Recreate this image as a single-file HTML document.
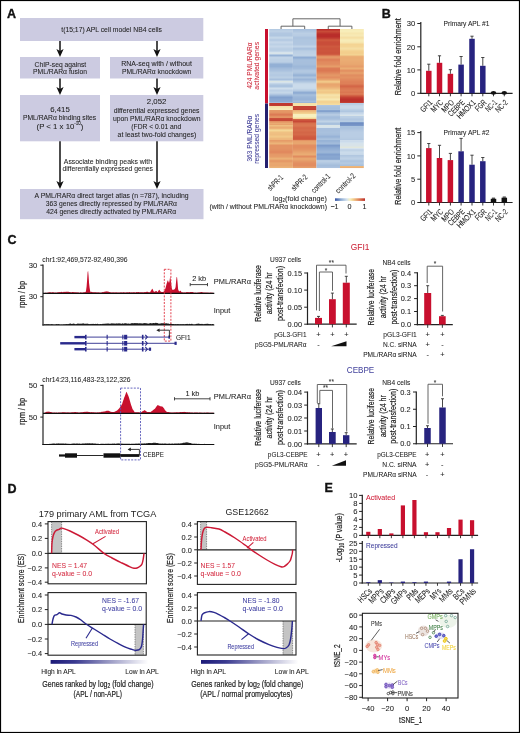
<!DOCTYPE html>
<html><head><meta charset="utf-8"><style>
html,body{margin:0;padding:0;background:#fff;}
svg{display:block;will-change:transform;}
svg text{font-family:"Liberation Sans", sans-serif;}
</style></head><body>
<svg width="520" height="733" viewBox="0 0 520 733" fill="#222">
<rect x="0" y="0" width="520" height="733" fill="#fff"/>
<text x="7.00" y="17.60" font-size="12.5" fill="#111" font-weight="bold" stroke="#111" stroke-width="0.35">A</text>
<rect x="20.00" y="18.00" width="183.30" height="23.00" fill="#cccbe1" />
<text x="111.60" y="29.60" font-size="7.8" text-anchor="middle" textLength="100.70" lengthAdjust="spacingAndGlyphs" dominant-baseline="central" stroke="#222" stroke-width="0.06">t(15;17) APL cell model NB4 cells</text>
<line x1="60.00" y1="41.00" x2="60.00" y2="54.00" stroke="#111" stroke-width="1.5" />
<path d="M56.40,49.00 L60.00,57.00 L63.60,49.00 L60.00,51.00 Z" stroke="none" fill="#111" stroke-width="1" />
<line x1="157.00" y1="41.00" x2="157.00" y2="54.00" stroke="#111" stroke-width="1.5" />
<path d="M153.40,49.00 L157.00,57.00 L160.60,49.00 L157.00,51.00 Z" stroke="none" fill="#111" stroke-width="1" />
<rect x="20.00" y="57.00" width="80.00" height="21.50" fill="#cccbe1" />
<rect x="110.00" y="57.00" width="93.30" height="21.50" fill="#cccbe1" />
<text x="60.40" y="64.00" font-size="7.8" text-anchor="middle" textLength="51.60" lengthAdjust="spacingAndGlyphs" dominant-baseline="central" stroke="#222" stroke-width="0.06">ChIP-seq against</text>
<text x="60.00" y="71.80" font-size="7.8" text-anchor="middle" textLength="53.80" lengthAdjust="spacingAndGlyphs" dominant-baseline="central" stroke="#222" stroke-width="0.06">PML/RAR&#945; fusion</text>
<text x="156.60" y="63.60" font-size="7.8" text-anchor="middle" textLength="70.70" lengthAdjust="spacingAndGlyphs" dominant-baseline="central" stroke="#222" stroke-width="0.06">RNA-seq with / without</text>
<text x="156.60" y="71.60" font-size="7.8" text-anchor="middle" textLength="69.30" lengthAdjust="spacingAndGlyphs" dominant-baseline="central" stroke="#222" stroke-width="0.06">PML/RAR&#945; knockdown</text>
<line x1="60.00" y1="78.50" x2="60.00" y2="92.00" stroke="#111" stroke-width="1.5" />
<path d="M56.40,87.00 L60.00,95.00 L63.60,87.00 L60.00,89.00 Z" stroke="none" fill="#111" stroke-width="1" />
<line x1="157.00" y1="78.50" x2="157.00" y2="92.00" stroke="#111" stroke-width="1.5" />
<path d="M153.40,87.00 L157.00,95.00 L160.60,87.00 L157.00,89.00 Z" stroke="none" fill="#111" stroke-width="1" />
<rect x="20.00" y="95.00" width="80.00" height="46.30" fill="#cccbe1" />
<rect x="110.00" y="95.00" width="93.30" height="46.30" fill="#cccbe1" />
<text x="60.00" y="109.60" font-size="7.8" text-anchor="middle" dominant-baseline="central" stroke="#222" stroke-width="0.06">6,415</text>
<text x="59.60" y="117.80" font-size="7.8" text-anchor="middle" textLength="73.20" lengthAdjust="spacingAndGlyphs" dominant-baseline="central" stroke="#222" stroke-width="0.06">PML/RAR&#945; binding sites</text>
<text x="60.00" y="126.00" font-size="7.8" text-anchor="middle" dominant-baseline="central" stroke="#222" stroke-width="0.06">(P &lt; 1 x 10<tspan font-size="4.5" dy="-3">-10</tspan><tspan dy="3">)</tspan></text>
<text x="156.60" y="101.80" font-size="7.8" text-anchor="middle" dominant-baseline="central" stroke="#222" stroke-width="0.06">2,052</text>
<text x="156.60" y="110.00" font-size="7.8" text-anchor="middle" textLength="85.70" lengthAdjust="spacingAndGlyphs" dominant-baseline="central" stroke="#222" stroke-width="0.06">differential expressed genes</text>
<text x="156.70" y="118.20" font-size="7.8" text-anchor="middle" textLength="87.50" lengthAdjust="spacingAndGlyphs" dominant-baseline="central" stroke="#222" stroke-width="0.06">upon PML/RAR&#945; knockdown</text>
<text x="156.30" y="126.20" font-size="7.8" text-anchor="middle" textLength="50.00" lengthAdjust="spacingAndGlyphs" dominant-baseline="central" stroke="#222" stroke-width="0.06">(FDR &lt; 0.01 and</text>
<text x="156.90" y="134.30" font-size="7.8" text-anchor="middle" textLength="78.70" lengthAdjust="spacingAndGlyphs" dominant-baseline="central" stroke="#222" stroke-width="0.06">at least two-fold changes)</text>
<line x1="60.00" y1="141.30" x2="60.00" y2="185.00" stroke="#111" stroke-width="1.5" />
<path d="M56.4,181 L60,189 L63.6,181 L60,183 Z" stroke="none" fill="#111" stroke-width="1" />
<line x1="157.00" y1="141.30" x2="157.00" y2="185.00" stroke="#111" stroke-width="1.5" />
<path d="M153.4,181 L157,189 L160.6,181 L157,183 Z" stroke="none" fill="#111" stroke-width="1" />
<text x="107.90" y="161.30" font-size="7.8" text-anchor="middle" textLength="88.20" lengthAdjust="spacingAndGlyphs" dominant-baseline="central" stroke="#222" stroke-width="0.06">Associate binding peaks with</text>
<text x="107.70" y="168.90" font-size="7.8" text-anchor="middle" textLength="90.50" lengthAdjust="spacingAndGlyphs" dominant-baseline="central" stroke="#222" stroke-width="0.06">differentially expressed genes</text>
<rect x="20.00" y="189.00" width="183.50" height="30.20" fill="#cccbe1" />
<text x="111.60" y="195.80" font-size="7.8" text-anchor="middle" textLength="154.20" lengthAdjust="spacingAndGlyphs" dominant-baseline="central" stroke="#222" stroke-width="0.06">A PML/RAR&#945; direct target atlas (n =787), including</text>
<text x="111.40" y="203.80" font-size="7.8" text-anchor="middle" textLength="131.20" lengthAdjust="spacingAndGlyphs" dominant-baseline="central" stroke="#222" stroke-width="0.06">363 genes directly repressed by PML/RAR&#945;</text>
<text x="111.20" y="211.80" font-size="7.8" text-anchor="middle" textLength="130.00" lengthAdjust="spacingAndGlyphs" dominant-baseline="central" stroke="#222" stroke-width="0.06">424 genes directly activated by PML/RAR&#945;</text>
<rect x="269.20" y="29.00" width="23.70" height="1.05" fill="#b4cae2" />
<rect x="269.20" y="30.00" width="23.70" height="1.05" fill="#bacee4" />
<rect x="269.20" y="31.00" width="23.70" height="1.05" fill="#bcd0e5" />
<rect x="269.20" y="32.00" width="23.70" height="1.05" fill="#b7cbe3" />
<rect x="269.20" y="33.00" width="23.70" height="1.05" fill="#b1c7e1" />
<rect x="269.20" y="34.00" width="23.70" height="1.05" fill="#b0c7e0" />
<rect x="269.20" y="35.00" width="23.70" height="1.05" fill="#b0c6e0" />
<rect x="269.20" y="36.00" width="23.70" height="1.05" fill="#b9cee4" />
<rect x="269.20" y="37.00" width="23.70" height="1.05" fill="#c4d6e8" />
<rect x="269.20" y="38.00" width="23.70" height="1.05" fill="#c0d3e6" />
<rect x="269.20" y="39.00" width="23.70" height="1.05" fill="#b6cbe3" />
<rect x="269.20" y="40.00" width="23.70" height="1.05" fill="#b6cbe3" />
<rect x="269.20" y="41.00" width="23.70" height="1.05" fill="#c1d3e7" />
<rect x="269.20" y="42.00" width="23.70" height="1.05" fill="#c6d7e9" />
<rect x="269.20" y="43.00" width="23.70" height="1.05" fill="#c1d3e7" />
<rect x="269.20" y="44.00" width="23.70" height="1.05" fill="#bcd0e5" />
<rect x="269.20" y="45.00" width="23.70" height="1.05" fill="#c1d4e7" />
<rect x="269.20" y="46.00" width="23.70" height="1.05" fill="#c6d7e9" />
<rect x="269.20" y="47.00" width="23.70" height="1.05" fill="#c1d3e7" />
<rect x="269.20" y="48.00" width="23.70" height="1.05" fill="#bbcfe4" />
<rect x="269.20" y="49.00" width="23.70" height="1.05" fill="#b9cee4" />
<rect x="269.20" y="50.00" width="23.70" height="1.05" fill="#bbcfe4" />
<rect x="269.20" y="51.00" width="23.70" height="1.05" fill="#c4d6e8" />
<rect x="269.20" y="52.00" width="23.70" height="1.05" fill="#d6e3ec" />
<rect x="269.20" y="53.00" width="23.70" height="1.05" fill="#d8e4e9" />
<rect x="269.20" y="54.00" width="23.70" height="1.05" fill="#b6cbe3" />
<rect x="269.20" y="55.00" width="23.70" height="1.05" fill="#97b3d6" />
<rect x="269.20" y="56.00" width="23.70" height="1.05" fill="#adc4df" />
<rect x="269.20" y="57.00" width="23.70" height="1.05" fill="#c1d3e7" />
<rect x="269.20" y="58.00" width="23.70" height="1.05" fill="#c0d3e6" />
<rect x="269.20" y="59.00" width="23.70" height="1.05" fill="#bdd1e5" />
<rect x="269.20" y="60.00" width="23.70" height="1.05" fill="#bdd0e5" />
<rect x="269.20" y="61.00" width="23.70" height="1.05" fill="#bcd0e5" />
<rect x="269.20" y="62.00" width="23.70" height="1.05" fill="#b4c9e2" />
<rect x="269.20" y="63.00" width="23.70" height="1.05" fill="#a1bbda" />
<rect x="269.20" y="64.00" width="23.70" height="1.05" fill="#94b0d5" />
<rect x="269.20" y="65.00" width="23.70" height="1.05" fill="#93b0d5" />
<rect x="269.20" y="66.00" width="23.70" height="1.05" fill="#93b0d5" />
<rect x="269.20" y="67.00" width="23.70" height="1.05" fill="#9bb6d8" />
<rect x="269.20" y="68.00" width="23.70" height="1.05" fill="#a2bbdb" />
<rect x="269.20" y="69.00" width="23.70" height="1.05" fill="#a6bfdc" />
<rect x="269.20" y="70.00" width="23.70" height="1.05" fill="#aac1de" />
<rect x="269.20" y="71.00" width="23.70" height="1.05" fill="#afc6e0" />
<rect x="269.20" y="72.00" width="23.70" height="1.05" fill="#b6cbe2" />
<rect x="269.20" y="73.00" width="23.70" height="1.05" fill="#b7cce3" />
<rect x="269.20" y="74.00" width="23.70" height="1.05" fill="#b4cae2" />
<rect x="269.20" y="75.00" width="23.70" height="1.05" fill="#b4c9e2" />
<rect x="269.20" y="76.00" width="23.70" height="1.05" fill="#b8cde3" />
<rect x="269.20" y="77.00" width="23.70" height="1.05" fill="#bbcfe4" />
<rect x="269.20" y="78.00" width="23.70" height="1.05" fill="#b2c8e1" />
<rect x="269.20" y="79.00" width="23.70" height="1.05" fill="#a8c0dd" />
<rect x="269.20" y="80.00" width="23.70" height="1.05" fill="#c0d3e6" />
<rect x="269.20" y="81.00" width="23.70" height="1.05" fill="#dbe5e4" />
<rect x="269.20" y="82.00" width="23.70" height="1.05" fill="#d6e3ec" />
<rect x="269.20" y="83.00" width="23.70" height="1.05" fill="#c3d5e7" />
<rect x="269.20" y="84.00" width="23.70" height="1.05" fill="#b5cbe2" />
<rect x="269.20" y="85.00" width="23.70" height="1.05" fill="#adc4df" />
<rect x="269.20" y="86.00" width="23.70" height="1.05" fill="#acc4df" />
<rect x="269.20" y="87.00" width="23.70" height="1.05" fill="#bfd2e6" />
<rect x="269.20" y="88.00" width="23.70" height="1.05" fill="#cfdeec" />
<rect x="269.20" y="89.00" width="23.70" height="1.05" fill="#c6d7e9" />
<rect x="269.20" y="90.00" width="23.70" height="1.05" fill="#bdd0e5" />
<rect x="269.20" y="91.00" width="23.70" height="1.05" fill="#c0d3e7" />
<rect x="269.20" y="92.00" width="23.70" height="1.05" fill="#c5d7e8" />
<rect x="269.20" y="93.00" width="23.70" height="1.05" fill="#bdd0e5" />
<rect x="269.20" y="94.00" width="23.70" height="1.05" fill="#afc5e0" />
<rect x="269.20" y="95.00" width="23.70" height="1.05" fill="#9eb8d9" />
<rect x="269.20" y="96.00" width="23.70" height="1.05" fill="#8eabd3" />
<rect x="269.20" y="97.00" width="23.70" height="1.05" fill="#82a0cd" />
<rect x="269.20" y="98.00" width="23.70" height="1.05" fill="#86a4cf" />
<rect x="269.20" y="99.00" width="23.70" height="1.05" fill="#89a7d1" />
<rect x="269.20" y="100.00" width="23.70" height="1.05" fill="#8caad2" />
<rect x="269.20" y="101.00" width="23.70" height="1.05" fill="#8eabd3" />
<rect x="269.20" y="102.00" width="23.70" height="1.05" fill="#a2bbdb" />
<rect x="269.20" y="103.00" width="23.70" height="1.05" fill="#bf3930" />
<rect x="269.20" y="104.00" width="23.70" height="1.05" fill="#bf3a30" />
<rect x="269.20" y="105.00" width="23.70" height="1.05" fill="#c13d31" />
<rect x="269.20" y="106.00" width="23.70" height="1.05" fill="#f6e2a9" />
<rect x="269.20" y="107.00" width="23.70" height="1.05" fill="#f6e6af" />
<rect x="269.20" y="108.00" width="23.70" height="1.05" fill="#f7eab5" />
<rect x="269.20" y="109.00" width="23.70" height="1.05" fill="#f7edb9" />
<rect x="269.20" y="110.00" width="23.70" height="1.05" fill="#e59967" />
<rect x="269.20" y="111.00" width="23.70" height="1.05" fill="#e49665" />
<rect x="269.20" y="112.00" width="23.70" height="1.05" fill="#e39363" />
<rect x="269.20" y="113.00" width="23.70" height="1.05" fill="#e0875c" />
<rect x="269.20" y="114.00" width="23.70" height="1.05" fill="#dc7a54" />
<rect x="269.20" y="115.00" width="23.70" height="1.05" fill="#de8158" />
<rect x="269.20" y="116.00" width="23.70" height="1.05" fill="#e29061" />
<rect x="269.20" y="117.00" width="23.70" height="1.05" fill="#e39363" />
<rect x="269.20" y="118.00" width="23.70" height="1.05" fill="#ca4f3a" />
<rect x="269.20" y="119.00" width="23.70" height="1.05" fill="#c64937" />
<rect x="269.20" y="120.00" width="23.70" height="1.05" fill="#c64736" />
<rect x="269.20" y="121.00" width="23.70" height="1.05" fill="#e28f61" />
<rect x="269.20" y="122.00" width="23.70" height="1.05" fill="#e69d69" />
<rect x="269.20" y="123.00" width="23.70" height="1.05" fill="#eaaa72" />
<rect x="269.20" y="124.00" width="23.70" height="1.05" fill="#e7a26c" />
<rect x="269.20" y="125.00" width="23.70" height="1.05" fill="#efbf81" />
<rect x="269.20" y="126.00" width="23.70" height="1.05" fill="#ecb57a" />
<rect x="269.20" y="127.00" width="23.70" height="1.05" fill="#eaac73" />
<rect x="269.20" y="128.00" width="23.70" height="1.05" fill="#ecb378" />
<rect x="269.20" y="129.00" width="23.70" height="1.05" fill="#f2cb8a" />
<rect x="269.20" y="130.00" width="23.70" height="1.05" fill="#f4d798" />
<rect x="269.20" y="131.00" width="23.70" height="1.05" fill="#f2cc8b" />
<rect x="269.20" y="132.00" width="23.70" height="1.05" fill="#efc183" />
<rect x="269.20" y="133.00" width="23.70" height="1.05" fill="#efbf82" />
<rect x="269.20" y="134.00" width="23.70" height="1.05" fill="#eebe80" />
<rect x="269.20" y="135.00" width="23.70" height="1.05" fill="#f0c284" />
<rect x="269.20" y="136.00" width="23.70" height="1.05" fill="#f1c888" />
<rect x="269.20" y="137.00" width="23.70" height="1.05" fill="#f0c284" />
<rect x="269.20" y="138.00" width="23.70" height="1.05" fill="#edb97d" />
<rect x="269.20" y="139.00" width="23.70" height="1.05" fill="#edb67b" />
<rect x="269.20" y="140.00" width="23.70" height="1.05" fill="#e69c69" />
<rect x="269.20" y="141.00" width="23.70" height="1.05" fill="#e7a26c" />
<rect x="269.20" y="142.00" width="23.70" height="1.05" fill="#eaac73" />
<rect x="269.20" y="143.00" width="23.70" height="1.05" fill="#ecb479" />
<rect x="269.20" y="144.00" width="23.70" height="1.05" fill="#e8a36d" />
<rect x="269.20" y="145.00" width="23.70" height="1.05" fill="#e39263" />
<rect x="269.20" y="146.00" width="23.70" height="1.05" fill="#e39263" />
<rect x="269.20" y="147.00" width="23.70" height="1.05" fill="#e39363" />
<rect x="269.20" y="148.00" width="23.70" height="1.05" fill="#e39263" />
<rect x="269.20" y="149.00" width="23.70" height="1.05" fill="#e29062" />
<rect x="269.20" y="150.00" width="23.70" height="1.05" fill="#e28d60" />
<rect x="269.20" y="151.00" width="23.70" height="1.05" fill="#e1895e" />
<rect x="269.20" y="152.00" width="23.70" height="1.05" fill="#e1895e" />
<rect x="269.20" y="153.00" width="23.70" height="1.05" fill="#e39162" />
<rect x="269.20" y="154.00" width="23.70" height="1.05" fill="#e59867" />
<rect x="269.20" y="155.00" width="23.70" height="1.05" fill="#e59a68" />
<rect x="269.20" y="156.00" width="23.70" height="1.05" fill="#e69c69" />
<rect x="269.20" y="157.00" width="23.70" height="1.05" fill="#e8a56e" />
<rect x="269.20" y="158.00" width="23.70" height="1.05" fill="#ebb076" />
<rect x="269.20" y="159.00" width="23.70" height="1.05" fill="#e9a971" />
<rect x="269.20" y="160.00" width="23.70" height="1.05" fill="#e59b68" />
<rect x="269.20" y="161.00" width="23.70" height="1.05" fill="#e59967" />
<rect x="269.20" y="162.00" width="23.70" height="1.05" fill="#e7a26c" />
<rect x="269.20" y="163.00" width="23.70" height="1.05" fill="#e9a770" />
<rect x="269.20" y="164.00" width="23.70" height="1.05" fill="#e9a66f" />
<rect x="269.20" y="165.00" width="23.70" height="1.05" fill="#e8a66f" />
<rect x="269.20" y="166.00" width="23.70" height="1.05" fill="#eaac73" />
<rect x="269.20" y="167.00" width="23.70" height="1.05" fill="#ebb277" />
<rect x="292.90" y="29.00" width="23.60" height="1.05" fill="#a8c0dd" />
<rect x="292.90" y="30.00" width="23.60" height="1.05" fill="#acc3df" />
<rect x="292.90" y="31.00" width="23.60" height="1.05" fill="#b1c7e0" />
<rect x="292.90" y="32.00" width="23.60" height="1.05" fill="#b6cbe3" />
<rect x="292.90" y="33.00" width="23.60" height="1.05" fill="#bbcfe4" />
<rect x="292.90" y="34.00" width="23.60" height="1.05" fill="#b9cde4" />
<rect x="292.90" y="35.00" width="23.60" height="1.05" fill="#b8cce3" />
<rect x="292.90" y="36.00" width="23.60" height="1.05" fill="#b2c8e1" />
<rect x="292.90" y="37.00" width="23.60" height="1.05" fill="#acc3df" />
<rect x="292.90" y="38.00" width="23.60" height="1.05" fill="#acc3de" />
<rect x="292.90" y="39.00" width="23.60" height="1.05" fill="#aec5df" />
<rect x="292.90" y="40.00" width="23.60" height="1.05" fill="#afc6e0" />
<rect x="292.90" y="41.00" width="23.60" height="1.05" fill="#afc6e0" />
<rect x="292.90" y="42.00" width="23.60" height="1.05" fill="#b0c6e0" />
<rect x="292.90" y="43.00" width="23.60" height="1.05" fill="#b0c6e0" />
<rect x="292.90" y="44.00" width="23.60" height="1.05" fill="#b1c7e1" />
<rect x="292.90" y="45.00" width="23.60" height="1.05" fill="#b9cde4" />
<rect x="292.90" y="46.00" width="23.60" height="1.05" fill="#c0d3e7" />
<rect x="292.90" y="47.00" width="23.60" height="1.05" fill="#b6cbe3" />
<rect x="292.90" y="48.00" width="23.60" height="1.05" fill="#aac1de" />
<rect x="292.90" y="49.00" width="23.60" height="1.05" fill="#acc4df" />
<rect x="292.90" y="50.00" width="23.60" height="1.05" fill="#b6cbe2" />
<rect x="292.90" y="51.00" width="23.60" height="1.05" fill="#bbcfe4" />
<rect x="292.90" y="52.00" width="23.60" height="1.05" fill="#bdd0e5" />
<rect x="292.90" y="53.00" width="23.60" height="1.05" fill="#bed1e6" />
<rect x="292.90" y="54.00" width="23.60" height="1.05" fill="#c0d3e6" />
<rect x="292.90" y="55.00" width="23.60" height="1.05" fill="#bfd2e6" />
<rect x="292.90" y="56.00" width="23.60" height="1.05" fill="#a8c0dd" />
<rect x="292.90" y="57.00" width="23.60" height="1.05" fill="#90add4" />
<rect x="292.90" y="58.00" width="23.60" height="1.05" fill="#98b4d7" />
<rect x="292.90" y="59.00" width="23.60" height="1.05" fill="#a4bddc" />
<rect x="292.90" y="60.00" width="23.60" height="1.05" fill="#a7c0dd" />
<rect x="292.90" y="61.00" width="23.60" height="1.05" fill="#a7bfdd" />
<rect x="292.90" y="62.00" width="23.60" height="1.05" fill="#a7bfdc" />
<rect x="292.90" y="63.00" width="23.60" height="1.05" fill="#a7bfdc" />
<rect x="292.90" y="64.00" width="23.60" height="1.05" fill="#a5bedc" />
<rect x="292.90" y="65.00" width="23.60" height="1.05" fill="#a1bbda" />
<rect x="292.90" y="66.00" width="23.60" height="1.05" fill="#9eb8d9" />
<rect x="292.90" y="67.00" width="23.60" height="1.05" fill="#a0bada" />
<rect x="292.90" y="68.00" width="23.60" height="1.05" fill="#a3bcdb" />
<rect x="292.90" y="69.00" width="23.60" height="1.05" fill="#aac2de" />
<rect x="292.90" y="70.00" width="23.60" height="1.05" fill="#b1c7e1" />
<rect x="292.90" y="71.00" width="23.60" height="1.05" fill="#b2c8e1" />
<rect x="292.90" y="72.00" width="23.60" height="1.05" fill="#afc6e0" />
<rect x="292.90" y="73.00" width="23.60" height="1.05" fill="#a8c0dd" />
<rect x="292.90" y="74.00" width="23.60" height="1.05" fill="#9cb7d8" />
<rect x="292.90" y="75.00" width="23.60" height="1.05" fill="#97b3d6" />
<rect x="292.90" y="76.00" width="23.60" height="1.05" fill="#a3bcdb" />
<rect x="292.90" y="77.00" width="23.60" height="1.05" fill="#adc4df" />
<rect x="292.90" y="78.00" width="23.60" height="1.05" fill="#a4bddb" />
<rect x="292.90" y="79.00" width="23.60" height="1.05" fill="#9bb5d8" />
<rect x="292.90" y="80.00" width="23.60" height="1.05" fill="#a3bcdb" />
<rect x="292.90" y="81.00" width="23.60" height="1.05" fill="#adc4df" />
<rect x="292.90" y="82.00" width="23.60" height="1.05" fill="#b8cde3" />
<rect x="292.90" y="83.00" width="23.60" height="1.05" fill="#c4d6e8" />
<rect x="292.90" y="84.00" width="23.60" height="1.05" fill="#cadaea" />
<rect x="292.90" y="85.00" width="23.60" height="1.05" fill="#cbdbeb" />
<rect x="292.90" y="86.00" width="23.60" height="1.05" fill="#cbdbeb" />
<rect x="292.90" y="87.00" width="23.60" height="1.05" fill="#cadbea" />
<rect x="292.90" y="88.00" width="23.60" height="1.05" fill="#c8d9ea" />
<rect x="292.90" y="89.00" width="23.60" height="1.05" fill="#bfd2e6" />
<rect x="292.90" y="90.00" width="23.60" height="1.05" fill="#b6cbe3" />
<rect x="292.90" y="91.00" width="23.60" height="1.05" fill="#a3bcdb" />
<rect x="292.90" y="92.00" width="23.60" height="1.05" fill="#8facd3" />
<rect x="292.90" y="93.00" width="23.60" height="1.05" fill="#93afd5" />
<rect x="292.90" y="94.00" width="23.60" height="1.05" fill="#a1bbda" />
<rect x="292.90" y="95.00" width="23.60" height="1.05" fill="#a5bedc" />
<rect x="292.90" y="96.00" width="23.60" height="1.05" fill="#9fb9da" />
<rect x="292.90" y="97.00" width="23.60" height="1.05" fill="#9bb6d8" />
<rect x="292.90" y="98.00" width="23.60" height="1.05" fill="#99b4d7" />
<rect x="292.90" y="99.00" width="23.60" height="1.05" fill="#98b3d7" />
<rect x="292.90" y="100.00" width="23.60" height="1.05" fill="#9fb9d9" />
<rect x="292.90" y="101.00" width="23.60" height="1.05" fill="#a6bfdc" />
<rect x="292.90" y="102.00" width="23.60" height="1.05" fill="#9bb6d8" />
<rect x="292.90" y="103.00" width="23.60" height="1.05" fill="#f6e1a7" />
<rect x="292.90" y="104.00" width="23.60" height="1.05" fill="#f6e1a7" />
<rect x="292.90" y="105.00" width="23.60" height="1.05" fill="#f6e2a9" />
<rect x="292.90" y="106.00" width="23.60" height="1.05" fill="#c44334" />
<rect x="292.90" y="107.00" width="23.60" height="1.05" fill="#c54535" />
<rect x="292.90" y="108.00" width="23.60" height="1.05" fill="#c54535" />
<rect x="292.90" y="109.00" width="23.60" height="1.05" fill="#c24033" />
<rect x="292.90" y="110.00" width="23.60" height="1.05" fill="#ebb177" />
<rect x="292.90" y="111.00" width="23.60" height="1.05" fill="#eebd80" />
<rect x="292.90" y="112.00" width="23.60" height="1.05" fill="#f1c989" />
<rect x="292.90" y="113.00" width="23.60" height="1.05" fill="#f3d392" />
<rect x="292.90" y="114.00" width="23.60" height="1.05" fill="#f8efbc" />
<rect x="292.90" y="115.00" width="23.60" height="1.05" fill="#f7f0bf" />
<rect x="292.90" y="116.00" width="23.60" height="1.05" fill="#f8f0be" />
<rect x="292.90" y="117.00" width="23.60" height="1.05" fill="#f7e7b0" />
<rect x="292.90" y="118.00" width="23.60" height="1.05" fill="#f4d696" />
<rect x="292.90" y="119.00" width="23.60" height="1.05" fill="#d16043" />
<rect x="292.90" y="120.00" width="23.60" height="1.05" fill="#cc533c" />
<rect x="292.90" y="121.00" width="23.60" height="1.05" fill="#c74937" />
<rect x="292.90" y="122.00" width="23.60" height="1.05" fill="#d05e42" />
<rect x="292.90" y="123.00" width="23.60" height="1.05" fill="#d8714e" />
<rect x="292.90" y="124.00" width="23.60" height="1.05" fill="#da7551" />
<rect x="292.90" y="125.00" width="23.60" height="1.05" fill="#da7752" />
<rect x="292.90" y="126.00" width="23.60" height="1.05" fill="#d9724f" />
<rect x="292.90" y="127.00" width="23.60" height="1.05" fill="#d66b4a" />
<rect x="292.90" y="128.00" width="23.60" height="1.05" fill="#d56949" />
<rect x="292.90" y="129.00" width="23.60" height="1.05" fill="#d66c4b" />
<rect x="292.90" y="130.00" width="23.60" height="1.05" fill="#d66d4c" />
<rect x="292.90" y="131.00" width="23.60" height="1.05" fill="#d56949" />
<rect x="292.90" y="132.00" width="23.60" height="1.05" fill="#d36647" />
<rect x="292.90" y="133.00" width="23.60" height="1.05" fill="#d46848" />
<rect x="292.90" y="134.00" width="23.60" height="1.05" fill="#d56949" />
<rect x="292.90" y="135.00" width="23.60" height="1.05" fill="#d36345" />
<rect x="292.90" y="136.00" width="23.60" height="1.05" fill="#d05d41" />
<rect x="292.90" y="137.00" width="23.60" height="1.05" fill="#cf593f" />
<rect x="292.90" y="138.00" width="23.60" height="1.05" fill="#ce583e" />
<rect x="292.90" y="139.00" width="23.60" height="1.05" fill="#d26144" />
<rect x="292.90" y="140.00" width="23.60" height="1.05" fill="#e49464" />
<rect x="292.90" y="141.00" width="23.60" height="1.05" fill="#e8a36d" />
<rect x="292.90" y="142.00" width="23.60" height="1.05" fill="#e8a56e" />
<rect x="292.90" y="143.00" width="23.60" height="1.05" fill="#e8a66f" />
<rect x="292.90" y="144.00" width="23.60" height="1.05" fill="#e59a68" />
<rect x="292.90" y="145.00" width="23.60" height="1.05" fill="#e28e61" />
<rect x="292.90" y="146.00" width="23.60" height="1.05" fill="#e28d60" />
<rect x="292.90" y="147.00" width="23.60" height="1.05" fill="#e28e60" />
<rect x="292.90" y="148.00" width="23.60" height="1.05" fill="#e39162" />
<rect x="292.90" y="149.00" width="23.60" height="1.05" fill="#e49464" />
<rect x="292.90" y="150.00" width="23.60" height="1.05" fill="#e59967" />
<rect x="292.90" y="151.00" width="23.60" height="1.05" fill="#e69f6a" />
<rect x="292.90" y="152.00" width="23.60" height="1.05" fill="#e8a46e" />
<rect x="292.90" y="153.00" width="23.60" height="1.05" fill="#e9a971" />
<rect x="292.90" y="154.00" width="23.60" height="1.05" fill="#eaac73" />
<rect x="292.90" y="155.00" width="23.60" height="1.05" fill="#e69c69" />
<rect x="292.90" y="156.00" width="23.60" height="1.05" fill="#e18c5f" />
<rect x="292.90" y="157.00" width="23.60" height="1.05" fill="#e49866" />
<rect x="292.90" y="158.00" width="23.60" height="1.05" fill="#e8a66f" />
<rect x="292.90" y="159.00" width="23.60" height="1.05" fill="#e8a56e" />
<rect x="292.90" y="160.00" width="23.60" height="1.05" fill="#e69e6a" />
<rect x="292.90" y="161.00" width="23.60" height="1.05" fill="#e49766" />
<rect x="292.90" y="162.00" width="23.60" height="1.05" fill="#e39263" />
<rect x="292.90" y="163.00" width="23.60" height="1.05" fill="#e28e61" />
<rect x="292.90" y="164.00" width="23.60" height="1.05" fill="#e28d60" />
<rect x="292.90" y="165.00" width="23.60" height="1.05" fill="#e28d60" />
<rect x="292.90" y="166.00" width="23.60" height="1.05" fill="#e49565" />
<rect x="292.90" y="167.00" width="23.60" height="1.05" fill="#e69d69" />
<rect x="316.50" y="29.00" width="23.50" height="1.05" fill="#b92d2a" />
<rect x="316.50" y="30.00" width="23.50" height="1.05" fill="#c13d32" />
<rect x="316.50" y="31.00" width="23.50" height="1.05" fill="#c84b38" />
<rect x="316.50" y="32.00" width="23.50" height="1.05" fill="#c34133" />
<rect x="316.50" y="33.00" width="23.50" height="1.05" fill="#be362e" />
<rect x="316.50" y="34.00" width="23.50" height="1.05" fill="#b92e2a" />
<rect x="316.50" y="35.00" width="23.50" height="1.05" fill="#b92d2a" />
<rect x="316.50" y="36.00" width="23.50" height="1.05" fill="#b92d2a" />
<rect x="316.50" y="37.00" width="23.50" height="1.05" fill="#bd362e" />
<rect x="316.50" y="38.00" width="23.50" height="1.05" fill="#c34133" />
<rect x="316.50" y="39.00" width="23.50" height="1.05" fill="#cb523b" />
<rect x="316.50" y="40.00" width="23.50" height="1.05" fill="#ce583e" />
<rect x="316.50" y="41.00" width="23.50" height="1.05" fill="#cb513b" />
<rect x="316.50" y="42.00" width="23.50" height="1.05" fill="#c94d39" />
<rect x="316.50" y="43.00" width="23.50" height="1.05" fill="#c94d39" />
<rect x="316.50" y="44.00" width="23.50" height="1.05" fill="#c94e39" />
<rect x="316.50" y="45.00" width="23.50" height="1.05" fill="#cc533c" />
<rect x="316.50" y="46.00" width="23.50" height="1.05" fill="#ce593f" />
<rect x="316.50" y="47.00" width="23.50" height="1.05" fill="#cd573d" />
<rect x="316.50" y="48.00" width="23.50" height="1.05" fill="#cc543c" />
<rect x="316.50" y="49.00" width="23.50" height="1.05" fill="#cc543c" />
<rect x="316.50" y="50.00" width="23.50" height="1.05" fill="#cd553d" />
<rect x="316.50" y="51.00" width="23.50" height="1.05" fill="#cc553c" />
<rect x="316.50" y="52.00" width="23.50" height="1.05" fill="#cb533c" />
<rect x="316.50" y="53.00" width="23.50" height="1.05" fill="#cc543c" />
<rect x="316.50" y="54.00" width="23.50" height="1.05" fill="#d05d41" />
<rect x="316.50" y="55.00" width="23.50" height="1.05" fill="#db7853" />
<rect x="316.50" y="56.00" width="23.50" height="1.05" fill="#e39162" />
<rect x="316.50" y="57.00" width="23.50" height="1.05" fill="#e49766" />
<rect x="316.50" y="58.00" width="23.50" height="1.05" fill="#e18d60" />
<rect x="316.50" y="59.00" width="23.50" height="1.05" fill="#de8159" />
<rect x="316.50" y="60.00" width="23.50" height="1.05" fill="#de8259" />
<rect x="316.50" y="61.00" width="23.50" height="1.05" fill="#e0885d" />
<rect x="316.50" y="62.00" width="23.50" height="1.05" fill="#e18b5f" />
<rect x="316.50" y="63.00" width="23.50" height="1.05" fill="#e18c5f" />
<rect x="316.50" y="64.00" width="23.50" height="1.05" fill="#e28f61" />
<rect x="316.50" y="65.00" width="23.50" height="1.05" fill="#e49766" />
<rect x="316.50" y="66.00" width="23.50" height="1.05" fill="#e69d69" />
<rect x="316.50" y="67.00" width="23.50" height="1.05" fill="#e18d60" />
<rect x="316.50" y="68.00" width="23.50" height="1.05" fill="#dc7c56" />
<rect x="316.50" y="69.00" width="23.50" height="1.05" fill="#db7a54" />
<rect x="316.50" y="70.00" width="23.50" height="1.05" fill="#db7853" />
<rect x="316.50" y="71.00" width="23.50" height="1.05" fill="#dd7d56" />
<rect x="316.50" y="72.00" width="23.50" height="1.05" fill="#df845b" />
<rect x="316.50" y="73.00" width="23.50" height="1.05" fill="#e18c5f" />
<rect x="316.50" y="74.00" width="23.50" height="1.05" fill="#e39364" />
<rect x="316.50" y="75.00" width="23.50" height="1.05" fill="#e49766" />
<rect x="316.50" y="76.00" width="23.50" height="1.05" fill="#e39263" />
<rect x="316.50" y="77.00" width="23.50" height="1.05" fill="#e28e61" />
<rect x="316.50" y="78.00" width="23.50" height="1.05" fill="#e59867" />
<rect x="316.50" y="79.00" width="23.50" height="1.05" fill="#e7a26d" />
<rect x="316.50" y="80.00" width="23.50" height="1.05" fill="#ecb57a" />
<rect x="316.50" y="81.00" width="23.50" height="1.05" fill="#f1c888" />
<rect x="316.50" y="82.00" width="23.50" height="1.05" fill="#efc183" />
<rect x="316.50" y="83.00" width="23.50" height="1.05" fill="#eaae74" />
<rect x="316.50" y="84.00" width="23.50" height="1.05" fill="#e8a56e" />
<rect x="316.50" y="85.00" width="23.50" height="1.05" fill="#e9a76f" />
<rect x="316.50" y="86.00" width="23.50" height="1.05" fill="#eaaa72" />
<rect x="316.50" y="87.00" width="23.50" height="1.05" fill="#ebb277" />
<rect x="316.50" y="88.00" width="23.50" height="1.05" fill="#eeba7e" />
<rect x="316.50" y="89.00" width="23.50" height="1.05" fill="#f0c485" />
<rect x="316.50" y="90.00" width="23.50" height="1.05" fill="#f2cd8c" />
<rect x="316.50" y="91.00" width="23.50" height="1.05" fill="#f1c989" />
<rect x="316.50" y="92.00" width="23.50" height="1.05" fill="#f1c787" />
<rect x="316.50" y="93.00" width="23.50" height="1.05" fill="#f3d190" />
<rect x="316.50" y="94.00" width="23.50" height="1.05" fill="#f5dea3" />
<rect x="316.50" y="95.00" width="23.50" height="1.05" fill="#f6e2a9" />
<rect x="316.50" y="96.00" width="23.50" height="1.05" fill="#f5dea2" />
<rect x="316.50" y="97.00" width="23.50" height="1.05" fill="#f5dda1" />
<rect x="316.50" y="98.00" width="23.50" height="1.05" fill="#f6e3ab" />
<rect x="316.50" y="99.00" width="23.50" height="1.05" fill="#f7e8b2" />
<rect x="316.50" y="100.00" width="23.50" height="1.05" fill="#f5dea3" />
<rect x="316.50" y="101.00" width="23.50" height="1.05" fill="#f4d393" />
<rect x="316.50" y="102.00" width="23.50" height="1.05" fill="#f4d393" />
<rect x="316.50" y="103.00" width="23.50" height="1.05" fill="#f4d899" />
<rect x="316.50" y="104.00" width="23.50" height="1.05" fill="#f5dca1" />
<rect x="316.50" y="105.00" width="23.50" height="1.05" fill="#afc5e0" />
<rect x="316.50" y="106.00" width="23.50" height="1.05" fill="#aac1de" />
<rect x="316.50" y="107.00" width="23.50" height="1.05" fill="#a7c0dd" />
<rect x="316.50" y="108.00" width="23.50" height="1.05" fill="#a6bfdc" />
<rect x="316.50" y="109.00" width="23.50" height="1.05" fill="#a8c0dd" />
<rect x="316.50" y="110.00" width="23.50" height="1.05" fill="#88a6d0" />
<rect x="316.50" y="111.00" width="23.50" height="1.05" fill="#83a1cd" />
<rect x="316.50" y="112.00" width="23.50" height="1.05" fill="#9fb9d9" />
<rect x="316.50" y="113.00" width="23.50" height="1.05" fill="#aac2de" />
<rect x="316.50" y="114.00" width="23.50" height="1.05" fill="#b7cbe3" />
<rect x="316.50" y="115.00" width="23.50" height="1.05" fill="#b3c9e1" />
<rect x="316.50" y="116.00" width="23.50" height="1.05" fill="#a8c0dd" />
<rect x="316.50" y="117.00" width="23.50" height="1.05" fill="#a4bddc" />
<rect x="316.50" y="118.00" width="23.50" height="1.05" fill="#a6bfdc" />
<rect x="316.50" y="119.00" width="23.50" height="1.05" fill="#acc3df" />
<rect x="316.50" y="120.00" width="23.50" height="1.05" fill="#b7cce3" />
<rect x="316.50" y="121.00" width="23.50" height="1.05" fill="#c0d3e6" />
<rect x="316.50" y="122.00" width="23.50" height="1.05" fill="#b4cae2" />
<rect x="316.50" y="123.00" width="23.50" height="1.05" fill="#a7c0dd" />
<rect x="316.50" y="124.00" width="23.50" height="1.05" fill="#aac2de" />
<rect x="316.50" y="125.00" width="23.50" height="1.05" fill="#d9e4e7" />
<rect x="316.50" y="126.00" width="23.50" height="1.05" fill="#d8e4e8" />
<rect x="316.50" y="127.00" width="23.50" height="1.05" fill="#d5e2ed" />
<rect x="316.50" y="128.00" width="23.50" height="1.05" fill="#a7bfdd" />
<rect x="316.50" y="129.00" width="23.50" height="1.05" fill="#a7bfdd" />
<rect x="316.50" y="130.00" width="23.50" height="1.05" fill="#a7bfdd" />
<rect x="316.50" y="131.00" width="23.50" height="1.05" fill="#a8c0dd" />
<rect x="316.50" y="132.00" width="23.50" height="1.05" fill="#a9c1de" />
<rect x="316.50" y="133.00" width="23.50" height="1.05" fill="#a7c0dd" />
<rect x="316.50" y="134.00" width="23.50" height="1.05" fill="#a6bedc" />
<rect x="316.50" y="135.00" width="23.50" height="1.05" fill="#9fb9da" />
<rect x="316.50" y="136.00" width="23.50" height="1.05" fill="#98b3d7" />
<rect x="316.50" y="137.00" width="23.50" height="1.05" fill="#9cb7d8" />
<rect x="316.50" y="138.00" width="23.50" height="1.05" fill="#a6bedc" />
<rect x="316.50" y="139.00" width="23.50" height="1.05" fill="#aac2de" />
<rect x="316.50" y="140.00" width="23.50" height="1.05" fill="#97b3d6" />
<rect x="316.50" y="141.00" width="23.50" height="1.05" fill="#99b4d7" />
<rect x="316.50" y="142.00" width="23.50" height="1.05" fill="#9fb9d9" />
<rect x="316.50" y="143.00" width="23.50" height="1.05" fill="#a2bbdb" />
<rect x="316.50" y="144.00" width="23.50" height="1.05" fill="#91aed4" />
<rect x="316.50" y="145.00" width="23.50" height="1.05" fill="#7d9bca" />
<rect x="316.50" y="146.00" width="23.50" height="1.05" fill="#82a0cd" />
<rect x="316.50" y="147.00" width="23.50" height="1.05" fill="#89a7d1" />
<rect x="316.50" y="148.00" width="23.50" height="1.05" fill="#8eacd3" />
<rect x="316.50" y="149.00" width="23.50" height="1.05" fill="#93afd5" />
<rect x="316.50" y="150.00" width="23.50" height="1.05" fill="#97b2d6" />
<rect x="316.50" y="151.00" width="23.50" height="1.05" fill="#9bb5d8" />
<rect x="316.50" y="152.00" width="23.50" height="1.05" fill="#9ab5d7" />
<rect x="316.50" y="153.00" width="23.50" height="1.05" fill="#8dabd3" />
<rect x="316.50" y="154.00" width="23.50" height="1.05" fill="#82a0cd" />
<rect x="316.50" y="155.00" width="23.50" height="1.05" fill="#85a3cf" />
<rect x="316.50" y="156.00" width="23.50" height="1.05" fill="#89a7d1" />
<rect x="316.50" y="157.00" width="23.50" height="1.05" fill="#88a6d0" />
<rect x="316.50" y="158.00" width="23.50" height="1.05" fill="#86a4cf" />
<rect x="316.50" y="159.00" width="23.50" height="1.05" fill="#8facd3" />
<rect x="316.50" y="160.00" width="23.50" height="1.05" fill="#b7cce3" />
<rect x="316.50" y="161.00" width="23.50" height="1.05" fill="#bacee4" />
<rect x="316.50" y="162.00" width="23.50" height="1.05" fill="#b5cae2" />
<rect x="316.50" y="163.00" width="23.50" height="1.05" fill="#afc6e0" />
<rect x="316.50" y="164.00" width="23.50" height="1.05" fill="#a9c1dd" />
<rect x="316.50" y="165.00" width="23.50" height="1.05" fill="#a4bddb" />
<rect x="316.50" y="166.00" width="23.50" height="1.05" fill="#a7bfdd" />
<rect x="316.50" y="167.00" width="23.50" height="1.05" fill="#abc2de" />
<rect x="340.00" y="29.00" width="23.80" height="1.05" fill="#f7ebb6" />
<rect x="340.00" y="30.00" width="23.80" height="1.05" fill="#f7edb9" />
<rect x="340.00" y="31.00" width="23.80" height="1.05" fill="#f8edb9" />
<rect x="340.00" y="32.00" width="23.80" height="1.05" fill="#f7e9b3" />
<rect x="340.00" y="33.00" width="23.80" height="1.05" fill="#f6e6ae" />
<rect x="340.00" y="34.00" width="23.80" height="1.05" fill="#f7e8b1" />
<rect x="340.00" y="35.00" width="23.80" height="1.05" fill="#f7e9b4" />
<rect x="340.00" y="36.00" width="23.80" height="1.05" fill="#f6e4ad" />
<rect x="340.00" y="37.00" width="23.80" height="1.05" fill="#f5dfa4" />
<rect x="340.00" y="38.00" width="23.80" height="1.05" fill="#f6e2a9" />
<rect x="340.00" y="39.00" width="23.80" height="1.05" fill="#f7e9b3" />
<rect x="340.00" y="40.00" width="23.80" height="1.05" fill="#f7ecb8" />
<rect x="340.00" y="41.00" width="23.80" height="1.05" fill="#f7eab5" />
<rect x="340.00" y="42.00" width="23.80" height="1.05" fill="#f6e6af" />
<rect x="340.00" y="43.00" width="23.80" height="1.05" fill="#f5dca0" />
<rect x="340.00" y="44.00" width="23.80" height="1.05" fill="#f4d493" />
<rect x="340.00" y="45.00" width="23.80" height="1.05" fill="#f4d595" />
<rect x="340.00" y="46.00" width="23.80" height="1.05" fill="#f4d696" />
<rect x="340.00" y="47.00" width="23.80" height="1.05" fill="#f5da9d" />
<rect x="340.00" y="48.00" width="23.80" height="1.05" fill="#f5dea3" />
<rect x="340.00" y="49.00" width="23.80" height="1.05" fill="#f5db9e" />
<rect x="340.00" y="50.00" width="23.80" height="1.05" fill="#f4d494" />
<rect x="340.00" y="51.00" width="23.80" height="1.05" fill="#f3d08e" />
<rect x="340.00" y="52.00" width="23.80" height="1.05" fill="#f3ce8d" />
<rect x="340.00" y="53.00" width="23.80" height="1.05" fill="#f3cf8d" />
<rect x="340.00" y="54.00" width="23.80" height="1.05" fill="#f3d392" />
<rect x="340.00" y="55.00" width="23.80" height="1.05" fill="#f0c586" />
<rect x="340.00" y="56.00" width="23.80" height="1.05" fill="#ebb076" />
<rect x="340.00" y="57.00" width="23.80" height="1.05" fill="#eaac73" />
<rect x="340.00" y="58.00" width="23.80" height="1.05" fill="#eaac73" />
<rect x="340.00" y="59.00" width="23.80" height="1.05" fill="#eaad74" />
<rect x="340.00" y="60.00" width="23.80" height="1.05" fill="#eaac73" />
<rect x="340.00" y="61.00" width="23.80" height="1.05" fill="#eaaa72" />
<rect x="340.00" y="62.00" width="23.80" height="1.05" fill="#e9a971" />
<rect x="340.00" y="63.00" width="23.80" height="1.05" fill="#e9a870" />
<rect x="340.00" y="64.00" width="23.80" height="1.05" fill="#e8a66f" />
<rect x="340.00" y="65.00" width="23.80" height="1.05" fill="#e7a16c" />
<rect x="340.00" y="66.00" width="23.80" height="1.05" fill="#e69d6a" />
<rect x="340.00" y="67.00" width="23.80" height="1.05" fill="#e8a56e" />
<rect x="340.00" y="68.00" width="23.80" height="1.05" fill="#eaad74" />
<rect x="340.00" y="69.00" width="23.80" height="1.05" fill="#e7a06b" />
<rect x="340.00" y="70.00" width="23.80" height="1.05" fill="#e39162" />
<rect x="340.00" y="71.00" width="23.80" height="1.05" fill="#e39464" />
<rect x="340.00" y="72.00" width="23.80" height="1.05" fill="#e69e6a" />
<rect x="340.00" y="73.00" width="23.80" height="1.05" fill="#e69e6a" />
<rect x="340.00" y="74.00" width="23.80" height="1.05" fill="#e39364" />
<rect x="340.00" y="75.00" width="23.80" height="1.05" fill="#e18d60" />
<rect x="340.00" y="76.00" width="23.80" height="1.05" fill="#e29061" />
<rect x="340.00" y="77.00" width="23.80" height="1.05" fill="#e39263" />
<rect x="340.00" y="78.00" width="23.80" height="1.05" fill="#e28e60" />
<rect x="340.00" y="79.00" width="23.80" height="1.05" fill="#e1895e" />
<rect x="340.00" y="80.00" width="23.80" height="1.05" fill="#e0865c" />
<rect x="340.00" y="81.00" width="23.80" height="1.05" fill="#df8259" />
<rect x="340.00" y="82.00" width="23.80" height="1.05" fill="#de8058" />
<rect x="340.00" y="83.00" width="23.80" height="1.05" fill="#de8058" />
<rect x="340.00" y="84.00" width="23.80" height="1.05" fill="#db7853" />
<rect x="340.00" y="85.00" width="23.80" height="1.05" fill="#d66c4b" />
<rect x="340.00" y="86.00" width="23.80" height="1.05" fill="#d46647" />
<rect x="340.00" y="87.00" width="23.80" height="1.05" fill="#d76e4c" />
<rect x="340.00" y="88.00" width="23.80" height="1.05" fill="#da7651" />
<rect x="340.00" y="89.00" width="23.80" height="1.05" fill="#db7954" />
<rect x="340.00" y="90.00" width="23.80" height="1.05" fill="#dd7d56" />
<rect x="340.00" y="91.00" width="23.80" height="1.05" fill="#db7a54" />
<rect x="340.00" y="92.00" width="23.80" height="1.05" fill="#da7651" />
<rect x="340.00" y="93.00" width="23.80" height="1.05" fill="#dd7d56" />
<rect x="340.00" y="94.00" width="23.80" height="1.05" fill="#db7853" />
<rect x="340.00" y="95.00" width="23.80" height="1.05" fill="#d36345" />
<rect x="340.00" y="96.00" width="23.80" height="1.05" fill="#cb513b" />
<rect x="340.00" y="97.00" width="23.80" height="1.05" fill="#c34133" />
<rect x="340.00" y="98.00" width="23.80" height="1.05" fill="#bf382f" />
<rect x="340.00" y="99.00" width="23.80" height="1.05" fill="#bb312c" />
<rect x="340.00" y="100.00" width="23.80" height="1.05" fill="#bb322c" />
<rect x="340.00" y="101.00" width="23.80" height="1.05" fill="#bc332d" />
<rect x="340.00" y="102.00" width="23.80" height="1.05" fill="#c24033" />
<rect x="340.00" y="103.00" width="23.80" height="1.05" fill="#b9cde4" />
<rect x="340.00" y="104.00" width="23.80" height="1.05" fill="#bbcfe4" />
<rect x="340.00" y="105.00" width="23.80" height="1.05" fill="#c4d6e8" />
<rect x="340.00" y="106.00" width="23.80" height="1.05" fill="#c8d9ea" />
<rect x="340.00" y="107.00" width="23.80" height="1.05" fill="#c8d9e9" />
<rect x="340.00" y="108.00" width="23.80" height="1.05" fill="#c5d7e8" />
<rect x="340.00" y="109.00" width="23.80" height="1.05" fill="#bcd0e5" />
<rect x="340.00" y="110.00" width="23.80" height="1.05" fill="#b4cae2" />
<rect x="340.00" y="111.00" width="23.80" height="1.05" fill="#afc6e0" />
<rect x="340.00" y="112.00" width="23.80" height="1.05" fill="#c0d2e6" />
<rect x="340.00" y="113.00" width="23.80" height="1.05" fill="#c7d8e9" />
<rect x="340.00" y="114.00" width="23.80" height="1.05" fill="#d0dfed" />
<rect x="340.00" y="115.00" width="23.80" height="1.05" fill="#d8e3e9" />
<rect x="340.00" y="116.00" width="23.80" height="1.05" fill="#bbcfe4" />
<rect x="340.00" y="117.00" width="23.80" height="1.05" fill="#bacee4" />
<rect x="340.00" y="118.00" width="23.80" height="1.05" fill="#b4c9e2" />
<rect x="340.00" y="119.00" width="23.80" height="1.05" fill="#b0c6e0" />
<rect x="340.00" y="120.00" width="23.80" height="1.05" fill="#b5cae2" />
<rect x="340.00" y="121.00" width="23.80" height="1.05" fill="#b8cde3" />
<rect x="340.00" y="122.00" width="23.80" height="1.05" fill="#7f9dcb" />
<rect x="340.00" y="123.00" width="23.80" height="1.05" fill="#708ec3" />
<rect x="340.00" y="124.00" width="23.80" height="1.05" fill="#7492c5" />
<rect x="340.00" y="125.00" width="23.80" height="1.05" fill="#7a98c9" />
<rect x="340.00" y="126.00" width="23.80" height="1.05" fill="#abc3de" />
<rect x="340.00" y="127.00" width="23.80" height="1.05" fill="#aac2de" />
<rect x="340.00" y="128.00" width="23.80" height="1.05" fill="#acc3df" />
<rect x="340.00" y="129.00" width="23.80" height="1.05" fill="#b0c6e0" />
<rect x="340.00" y="130.00" width="23.80" height="1.05" fill="#b4c9e2" />
<rect x="340.00" y="131.00" width="23.80" height="1.05" fill="#b7cbe3" />
<rect x="340.00" y="132.00" width="23.80" height="1.05" fill="#b9cde4" />
<rect x="340.00" y="133.00" width="23.80" height="1.05" fill="#b9cde4" />
<rect x="340.00" y="134.00" width="23.80" height="1.05" fill="#b9cde4" />
<rect x="340.00" y="135.00" width="23.80" height="1.05" fill="#b9cde4" />
<rect x="340.00" y="136.00" width="23.80" height="1.05" fill="#b9cde4" />
<rect x="340.00" y="137.00" width="23.80" height="1.05" fill="#b8cce3" />
<rect x="340.00" y="138.00" width="23.80" height="1.05" fill="#b6cbe2" />
<rect x="340.00" y="139.00" width="23.80" height="1.05" fill="#b3c8e1" />
<rect x="340.00" y="140.00" width="23.80" height="1.05" fill="#cddceb" />
<rect x="340.00" y="141.00" width="23.80" height="1.05" fill="#cbdbeb" />
<rect x="340.00" y="142.00" width="23.80" height="1.05" fill="#d1e0ed" />
<rect x="340.00" y="143.00" width="23.80" height="1.05" fill="#d6e3eb" />
<rect x="340.00" y="144.00" width="23.80" height="1.05" fill="#d7e3ea" />
<rect x="340.00" y="145.00" width="23.80" height="1.05" fill="#d8e3e9" />
<rect x="340.00" y="146.00" width="23.80" height="1.05" fill="#dce5e3" />
<rect x="340.00" y="147.00" width="23.80" height="1.05" fill="#e1e7dd" />
<rect x="340.00" y="148.00" width="23.80" height="1.05" fill="#d5e2ed" />
<rect x="340.00" y="149.00" width="23.80" height="1.05" fill="#c3d5e8" />
<rect x="340.00" y="150.00" width="23.80" height="1.05" fill="#bfd2e6" />
<rect x="340.00" y="151.00" width="23.80" height="1.05" fill="#c6d8e9" />
<rect x="340.00" y="152.00" width="23.80" height="1.05" fill="#cbdbeb" />
<rect x="340.00" y="153.00" width="23.80" height="1.05" fill="#c9daea" />
<rect x="340.00" y="154.00" width="23.80" height="1.05" fill="#c7d8e9" />
<rect x="340.00" y="155.00" width="23.80" height="1.05" fill="#b1c7e0" />
<rect x="340.00" y="156.00" width="23.80" height="1.05" fill="#b5cae2" />
<rect x="340.00" y="157.00" width="23.80" height="1.05" fill="#bacee4" />
<rect x="340.00" y="158.00" width="23.80" height="1.05" fill="#bed1e6" />
<rect x="340.00" y="159.00" width="23.80" height="1.05" fill="#b9cee4" />
<rect x="340.00" y="160.00" width="23.80" height="1.05" fill="#b0c6e0" />
<rect x="340.00" y="161.00" width="23.80" height="1.05" fill="#adc4df" />
<rect x="340.00" y="162.00" width="23.80" height="1.05" fill="#b2c8e1" />
<rect x="340.00" y="163.00" width="23.80" height="1.05" fill="#b3c9e1" />
<rect x="340.00" y="164.00" width="23.80" height="1.05" fill="#adc4df" />
<rect x="340.00" y="165.00" width="23.80" height="1.05" fill="#a7c0dd" />
<rect x="340.00" y="166.00" width="23.80" height="1.05" fill="#ecb67a" />
<rect x="340.00" y="167.00" width="23.80" height="1.05" fill="#ebaf75" />
<rect x="265.00" y="29.00" width="3.00" height="74.50" fill="#c8102e" />
<rect x="265.00" y="103.50" width="3.00" height="64.50" fill="#25206e" />
<path d="M281.05,29.00 L281.05,26.20 L304.70,26.20 L304.70,29.00" stroke="#555" fill="none" stroke-width="0.9" />
<path d="M328.25,29.00 L328.25,26.20 L351.90,26.20 L351.90,29.00" stroke="#555" fill="none" stroke-width="0.9" />
<path d="M292.88,26.20 L292.88,18.80 L340.07,18.80 L340.07,26.20" stroke="#555" fill="none" stroke-width="0.9" />
<text x="249.40" y="65.50" font-size="7.3" text-anchor="middle" fill="#cf2a3c" textLength="46.30" lengthAdjust="spacingAndGlyphs" dominant-baseline="central" transform="rotate(-90 249.40 65.50)" stroke="#cf2a3c" stroke-width="0.06">424 PML/RAR&#945;</text>
<text x="257.00" y="65.80" font-size="7.3" text-anchor="middle" fill="#cf2a3c" textLength="47.70" lengthAdjust="spacingAndGlyphs" dominant-baseline="central" transform="rotate(-90 257.00 65.80)" stroke="#cf2a3c" stroke-width="0.06">activated genes</text>
<text x="249.40" y="138.70" font-size="7.3" text-anchor="middle" fill="#3d3b96" textLength="45.80" lengthAdjust="spacingAndGlyphs" dominant-baseline="central" transform="rotate(-90 249.40 138.70)" stroke="#3d3b96" stroke-width="0.06">363 PML/RAR&#945;</text>
<text x="257.00" y="138.80" font-size="7.3" text-anchor="middle" fill="#3d3b96" textLength="50.00" lengthAdjust="spacingAndGlyphs" dominant-baseline="central" transform="rotate(-90 257.00 138.80)" stroke="#3d3b96" stroke-width="0.06">repressed genes</text>
<text x="281.80" y="176.30" font-size="8.0" text-anchor="end" textLength="18.50" lengthAdjust="spacingAndGlyphs" dominant-baseline="central" transform="rotate(-45 281.80 176.30)" stroke="#222" stroke-width="0.06">shPR-1</text>
<text x="306.20" y="175.80" font-size="8.0" text-anchor="end" textLength="19.50" lengthAdjust="spacingAndGlyphs" dominant-baseline="central" transform="rotate(-45 306.20 175.80)" stroke="#222" stroke-width="0.06">shPR-2</text>
<text x="329.20" y="175.20" font-size="8.0" text-anchor="end" textLength="23.50" lengthAdjust="spacingAndGlyphs" dominant-baseline="central" transform="rotate(-45 329.20 175.20)" stroke="#222" stroke-width="0.06">control-1</text>
<text x="354.30" y="174.60" font-size="8.0" text-anchor="end" textLength="25.00" lengthAdjust="spacingAndGlyphs" dominant-baseline="central" transform="rotate(-45 354.30 174.60)" stroke="#222" stroke-width="0.06">control-2</text>
<text x="327.00" y="198.00" font-size="7.2" text-anchor="end" dominant-baseline="central" stroke="#222" stroke-width="0.06">log<tspan font-size="4.6" dy="1.8">2</tspan><tspan dy="-1.8">(fold change)</tspan></text>
<text x="327.00" y="206.20" font-size="7.2" text-anchor="end" textLength="117.50" lengthAdjust="spacingAndGlyphs" dominant-baseline="central" stroke="#222" stroke-width="0.06">(with / without PML/RAR&#945; knockdown)</text>
<defs><linearGradient id="cb" x1="0" x2="1" y1="0" y2="0"><stop offset="0.000" stop-color="#3755a5"/><stop offset="0.200" stop-color="#8caad2"/><stop offset="0.300" stop-color="#b2c8e1"/><stop offset="0.400" stop-color="#d4e2ee"/><stop offset="0.500" stop-color="#f8f0be"/><stop offset="0.600" stop-color="#f3d08e"/><stop offset="0.700" stop-color="#e9a870"/><stop offset="0.800" stop-color="#de8058"/><stop offset="0.900" stop-color="#ce583e"/><stop offset="1.000" stop-color="#b92d2a"/></linearGradient></defs>
<rect x="335.00" y="198.30" width="30.00" height="2.60" fill="url(#cb)" />
<text x="334.50" y="206.20" font-size="7.2" text-anchor="middle" dominant-baseline="central" stroke="#222" stroke-width="0.06">−1</text>
<text x="349.50" y="206.20" font-size="7.2" text-anchor="middle" dominant-baseline="central" stroke="#222" stroke-width="0.06">0</text>
<text x="364.50" y="206.20" font-size="7.2" text-anchor="middle" dominant-baseline="central" stroke="#222" stroke-width="0.06">1</text>
<text x="381.80" y="17.90" font-size="12.5" fill="#111" font-weight="bold" stroke="#111" stroke-width="0.35">B</text>
<line x1="420.80" y1="22.00" x2="420.80" y2="93.80" stroke="#222" stroke-width="1.2" />
<line x1="420.20" y1="93.30" x2="512.60" y2="93.30" stroke="#222" stroke-width="1.2" />
<line x1="417.30" y1="23.50" x2="420.80" y2="23.50" stroke="#222" stroke-width="1" />
<text x="415.30" y="23.70" font-size="7.6" text-anchor="end" dominant-baseline="central" stroke="#222" stroke-width="0.06">30</text>
<line x1="417.30" y1="46.80" x2="420.80" y2="46.80" stroke="#222" stroke-width="1" />
<text x="415.30" y="47.00" font-size="7.6" text-anchor="end" dominant-baseline="central" stroke="#222" stroke-width="0.06">20</text>
<line x1="417.30" y1="69.90" x2="420.80" y2="69.90" stroke="#222" stroke-width="1" />
<text x="415.30" y="70.10" font-size="7.6" text-anchor="end" dominant-baseline="central" stroke="#222" stroke-width="0.06">10</text>
<line x1="417.30" y1="93.30" x2="420.80" y2="93.30" stroke="#222" stroke-width="1" />
<text x="415.30" y="93.50" font-size="7.6" text-anchor="end" dominant-baseline="central" stroke="#222" stroke-width="0.06">0</text>
<text x="466.50" y="23.70" font-size="8.0" text-anchor="middle" textLength="46.00" lengthAdjust="spacingAndGlyphs" dominant-baseline="central" stroke="#222" stroke-width="0.06">Primary APL #1</text>
<rect x="426.05" y="70.80" width="5.50" height="22.50" fill="#c8102e" />
<line x1="428.80" y1="70.80" x2="428.80" y2="64.20" stroke="#333" stroke-width="0.9" />
<line x1="427.20" y1="64.20" x2="430.40" y2="64.20" stroke="#333" stroke-width="0.9" />
<rect x="436.75" y="62.80" width="5.50" height="30.50" fill="#c8102e" />
<line x1="439.50" y1="62.80" x2="439.50" y2="55.80" stroke="#333" stroke-width="0.9" />
<line x1="437.90" y1="55.80" x2="441.10" y2="55.80" stroke="#333" stroke-width="0.9" />
<rect x="447.65" y="73.80" width="5.50" height="19.50" fill="#c8102e" />
<line x1="450.40" y1="73.80" x2="450.40" y2="69.70" stroke="#333" stroke-width="0.9" />
<line x1="448.80" y1="69.70" x2="452.00" y2="69.70" stroke="#333" stroke-width="0.9" />
<rect x="458.35" y="64.60" width="5.50" height="28.70" fill="#27237f" />
<line x1="461.10" y1="64.60" x2="461.10" y2="56.50" stroke="#333" stroke-width="0.9" />
<line x1="459.50" y1="56.50" x2="462.70" y2="56.50" stroke="#333" stroke-width="0.9" />
<rect x="469.25" y="38.80" width="5.50" height="54.50" fill="#27237f" />
<line x1="472.00" y1="38.80" x2="472.00" y2="36.20" stroke="#333" stroke-width="0.9" />
<line x1="470.40" y1="36.20" x2="473.60" y2="36.20" stroke="#333" stroke-width="0.9" />
<rect x="480.05" y="65.80" width="5.50" height="27.50" fill="#27237f" />
<line x1="482.80" y1="65.80" x2="482.80" y2="57.50" stroke="#333" stroke-width="0.9" />
<line x1="481.20" y1="57.50" x2="484.40" y2="57.50" stroke="#333" stroke-width="0.9" />
<line x1="428.80" y1="93.30" x2="428.80" y2="96.30" stroke="#222" stroke-width="0.9" />
<line x1="439.50" y1="93.30" x2="439.50" y2="96.30" stroke="#222" stroke-width="0.9" />
<line x1="450.40" y1="93.30" x2="450.40" y2="96.30" stroke="#222" stroke-width="0.9" />
<line x1="461.10" y1="93.30" x2="461.10" y2="96.30" stroke="#222" stroke-width="0.9" />
<line x1="472.00" y1="93.30" x2="472.00" y2="96.30" stroke="#222" stroke-width="0.9" />
<line x1="482.80" y1="93.30" x2="482.80" y2="96.30" stroke="#222" stroke-width="0.9" />
<line x1="493.50" y1="93.30" x2="493.50" y2="96.30" stroke="#222" stroke-width="0.9" />
<line x1="504.30" y1="93.30" x2="504.30" y2="96.30" stroke="#222" stroke-width="0.9" />
<ellipse cx="493.50" cy="92.80" rx="2.7" ry="1.9" fill="#111"/>
<ellipse cx="504.30" cy="92.80" rx="2.7" ry="1.9" fill="#111"/>
<text x="431.20" y="101.30" font-size="8.2" text-anchor="end" textLength="13.52" lengthAdjust="spacingAndGlyphs" dominant-baseline="central" transform="rotate(-45 431.20 101.30)" stroke="#222" stroke-width="0.06">GFI1</text>
<text x="441.90" y="101.30" font-size="8.2" text-anchor="end" textLength="13.52" lengthAdjust="spacingAndGlyphs" dominant-baseline="central" transform="rotate(-45 441.90 101.30)" stroke="#222" stroke-width="0.06">MYC</text>
<text x="452.80" y="101.30" font-size="8.2" text-anchor="end" textLength="14.04" lengthAdjust="spacingAndGlyphs" dominant-baseline="central" transform="rotate(-45 452.80 101.30)" stroke="#222" stroke-width="0.06">MPO</text>
<text x="463.50" y="101.30" font-size="8.2" text-anchor="end" textLength="19.76" lengthAdjust="spacingAndGlyphs" dominant-baseline="central" transform="rotate(-45 463.50 101.30)" stroke="#222" stroke-width="0.06">CEBPE</text>
<text x="474.40" y="101.30" font-size="8.2" text-anchor="end" textLength="22.88" lengthAdjust="spacingAndGlyphs" dominant-baseline="central" transform="rotate(-45 474.40 101.30)" stroke="#222" stroke-width="0.06">HMOX1</text>
<text x="485.20" y="101.30" font-size="8.2" text-anchor="end" textLength="12.48" lengthAdjust="spacingAndGlyphs" dominant-baseline="central" transform="rotate(-45 485.20 101.30)" stroke="#222" stroke-width="0.06">FGR</text>
<text x="495.90" y="101.30" font-size="8.2" text-anchor="end" textLength="13.00" lengthAdjust="spacingAndGlyphs" dominant-baseline="central" transform="rotate(-45 495.90 101.30)" stroke="#222" stroke-width="0.06">NC-1</text>
<text x="506.70" y="101.30" font-size="8.2" text-anchor="end" textLength="14.04" lengthAdjust="spacingAndGlyphs" dominant-baseline="central" transform="rotate(-45 506.70 101.30)" stroke="#222" stroke-width="0.06">NC-2</text>
<text x="398.00" y="56.70" font-size="9" text-anchor="middle" textLength="77.00" lengthAdjust="spacingAndGlyphs" dominant-baseline="central" transform="rotate(-90 398.00 56.70)" stroke="#222" stroke-width="0.2">Relative fold enrichment</text>
<line x1="420.80" y1="131.10" x2="420.80" y2="203.00" stroke="#222" stroke-width="1.2" />
<line x1="420.20" y1="202.50" x2="512.60" y2="202.50" stroke="#222" stroke-width="1.2" />
<line x1="417.30" y1="132.60" x2="420.80" y2="132.60" stroke="#222" stroke-width="1" />
<text x="415.30" y="132.80" font-size="7.6" text-anchor="end" dominant-baseline="central" stroke="#222" stroke-width="0.06">15</text>
<line x1="417.30" y1="155.90" x2="420.80" y2="155.90" stroke="#222" stroke-width="1" />
<text x="415.30" y="156.10" font-size="7.6" text-anchor="end" dominant-baseline="central" stroke="#222" stroke-width="0.06">10</text>
<line x1="417.30" y1="179.20" x2="420.80" y2="179.20" stroke="#222" stroke-width="1" />
<text x="415.30" y="179.40" font-size="7.6" text-anchor="end" dominant-baseline="central" stroke="#222" stroke-width="0.06">5</text>
<line x1="417.30" y1="202.50" x2="420.80" y2="202.50" stroke="#222" stroke-width="1" />
<text x="415.30" y="202.70" font-size="7.6" text-anchor="end" dominant-baseline="central" stroke="#222" stroke-width="0.06">0</text>
<text x="466.50" y="132.80" font-size="8.0" text-anchor="middle" textLength="46.00" lengthAdjust="spacingAndGlyphs" dominant-baseline="central" stroke="#222" stroke-width="0.06">Primary APL #2</text>
<rect x="426.05" y="148.10" width="5.50" height="54.40" fill="#c8102e" />
<line x1="428.80" y1="148.10" x2="428.80" y2="143.50" stroke="#333" stroke-width="0.9" />
<line x1="427.20" y1="143.50" x2="430.40" y2="143.50" stroke="#333" stroke-width="0.9" />
<rect x="436.75" y="158.00" width="5.50" height="44.50" fill="#c8102e" />
<line x1="439.50" y1="158.00" x2="439.50" y2="145.30" stroke="#333" stroke-width="0.9" />
<line x1="437.90" y1="145.30" x2="441.10" y2="145.30" stroke="#333" stroke-width="0.9" />
<rect x="447.65" y="160.10" width="5.50" height="42.40" fill="#c8102e" />
<line x1="450.40" y1="160.10" x2="450.40" y2="153.40" stroke="#333" stroke-width="0.9" />
<line x1="448.80" y1="153.40" x2="452.00" y2="153.40" stroke="#333" stroke-width="0.9" />
<rect x="458.35" y="151.30" width="5.50" height="51.20" fill="#27237f" />
<line x1="461.10" y1="151.30" x2="461.10" y2="138.40" stroke="#333" stroke-width="0.9" />
<line x1="459.50" y1="138.40" x2="462.70" y2="138.40" stroke="#333" stroke-width="0.9" />
<rect x="469.25" y="164.70" width="5.50" height="37.80" fill="#27237f" />
<line x1="472.00" y1="164.70" x2="472.00" y2="155.20" stroke="#333" stroke-width="0.9" />
<line x1="470.40" y1="155.20" x2="473.60" y2="155.20" stroke="#333" stroke-width="0.9" />
<rect x="480.05" y="161.20" width="5.50" height="41.30" fill="#27237f" />
<line x1="482.80" y1="161.20" x2="482.80" y2="157.50" stroke="#333" stroke-width="0.9" />
<line x1="481.20" y1="157.50" x2="484.40" y2="157.50" stroke="#333" stroke-width="0.9" />
<line x1="428.80" y1="202.50" x2="428.80" y2="205.50" stroke="#222" stroke-width="0.9" />
<line x1="439.50" y1="202.50" x2="439.50" y2="205.50" stroke="#222" stroke-width="0.9" />
<line x1="450.40" y1="202.50" x2="450.40" y2="205.50" stroke="#222" stroke-width="0.9" />
<line x1="461.10" y1="202.50" x2="461.10" y2="205.50" stroke="#222" stroke-width="0.9" />
<line x1="472.00" y1="202.50" x2="472.00" y2="205.50" stroke="#222" stroke-width="0.9" />
<line x1="482.80" y1="202.50" x2="482.80" y2="205.50" stroke="#222" stroke-width="0.9" />
<line x1="493.50" y1="202.50" x2="493.50" y2="205.50" stroke="#222" stroke-width="0.9" />
<line x1="504.30" y1="202.50" x2="504.30" y2="205.50" stroke="#222" stroke-width="0.9" />
<rect x="490.75" y="198.80" width="5.50" height="3.70" fill="#111" />
<line x1="491.90" y1="198.20" x2="495.10" y2="198.20" stroke="#111" stroke-width="1" />
<rect x="501.55" y="197.70" width="5.50" height="4.80" fill="#111" />
<line x1="502.70" y1="197.10" x2="505.90" y2="197.10" stroke="#111" stroke-width="1" />
<text x="431.20" y="210.50" font-size="8.2" text-anchor="end" textLength="13.52" lengthAdjust="spacingAndGlyphs" dominant-baseline="central" transform="rotate(-45 431.20 210.50)" stroke="#222" stroke-width="0.06">GFI1</text>
<text x="441.90" y="210.50" font-size="8.2" text-anchor="end" textLength="13.52" lengthAdjust="spacingAndGlyphs" dominant-baseline="central" transform="rotate(-45 441.90 210.50)" stroke="#222" stroke-width="0.06">MYC</text>
<text x="452.80" y="210.50" font-size="8.2" text-anchor="end" textLength="14.04" lengthAdjust="spacingAndGlyphs" dominant-baseline="central" transform="rotate(-45 452.80 210.50)" stroke="#222" stroke-width="0.06">MPO</text>
<text x="463.50" y="210.50" font-size="8.2" text-anchor="end" textLength="19.76" lengthAdjust="spacingAndGlyphs" dominant-baseline="central" transform="rotate(-45 463.50 210.50)" stroke="#222" stroke-width="0.06">CEBPE</text>
<text x="474.40" y="210.50" font-size="8.2" text-anchor="end" textLength="22.88" lengthAdjust="spacingAndGlyphs" dominant-baseline="central" transform="rotate(-45 474.40 210.50)" stroke="#222" stroke-width="0.06">HMOX1</text>
<text x="485.20" y="210.50" font-size="8.2" text-anchor="end" textLength="12.48" lengthAdjust="spacingAndGlyphs" dominant-baseline="central" transform="rotate(-45 485.20 210.50)" stroke="#222" stroke-width="0.06">FGR</text>
<text x="495.90" y="210.50" font-size="8.2" text-anchor="end" textLength="13.00" lengthAdjust="spacingAndGlyphs" dominant-baseline="central" transform="rotate(-45 495.90 210.50)" stroke="#222" stroke-width="0.06">NC-1</text>
<text x="506.70" y="210.50" font-size="8.2" text-anchor="end" textLength="14.04" lengthAdjust="spacingAndGlyphs" dominant-baseline="central" transform="rotate(-45 506.70 210.50)" stroke="#222" stroke-width="0.06">NC-2</text>
<text x="398.00" y="166.30" font-size="9" text-anchor="middle" textLength="77.00" lengthAdjust="spacingAndGlyphs" dominant-baseline="central" transform="rotate(-90 398.00 166.30)" stroke="#222" stroke-width="0.2">Relative fold enrichment</text>
<text x="7.50" y="243.90" font-size="12.5" fill="#111" font-weight="bold" stroke="#111" stroke-width="0.35">C</text>
<text x="42.30" y="259.70" font-size="7.2" textLength="85.20" lengthAdjust="spacingAndGlyphs" dominant-baseline="central" stroke="#222" stroke-width="0.06">chr1:92,469,572-92,490,396</text>
<line x1="43.00" y1="264.50" x2="43.00" y2="325.60" stroke="#222" stroke-width="1.2" />
<line x1="40.30" y1="265.20" x2="43.00" y2="265.20" stroke="#222" stroke-width="1" />
<line x1="40.30" y1="296.70" x2="43.00" y2="296.70" stroke="#222" stroke-width="1" />
<text x="37.30" y="265.40" font-size="7.6" text-anchor="end" dominant-baseline="central" stroke="#222" stroke-width="0.06">30</text>
<text x="37.30" y="296.70" font-size="7.6" text-anchor="end" dominant-baseline="central" stroke="#222" stroke-width="0.06">30</text>
<text x="22.30" y="294.50" font-size="8.6" text-anchor="middle" textLength="27.00" lengthAdjust="spacingAndGlyphs" dominant-baseline="central" transform="rotate(-90 22.30 294.50)" stroke="#222" stroke-width="0.2">rpm / bp</text>
<path d="M43.60,293.30 L43.60,293.19 L44.10,292.96 L44.60,292.91 L45.10,292.75 L45.60,292.65 L46.10,292.83 L46.60,292.92 L47.10,292.58 L47.60,292.65 L48.10,292.67 L48.60,292.32 L49.10,292.37 L49.60,292.20 L50.10,292.28 L50.60,292.27 L51.10,292.50 L51.60,292.41 L52.10,292.26 L52.60,292.36 L53.10,292.32 L53.60,292.34 L54.10,292.63 L54.60,292.48 L55.10,292.47 L55.60,292.57 L56.10,292.72 L56.60,292.41 L57.10,292.41 L57.60,292.29 L58.10,292.14 L58.60,292.13 L59.10,292.01 L59.60,292.17 L60.10,292.06 L60.60,292.13 L61.10,291.93 L61.60,291.83 L62.10,292.11 L62.60,292.22 L63.10,292.21 L63.60,291.85 L64.10,291.89 L64.60,291.80 L65.10,291.88 L65.60,291.81 L66.10,291.81 L66.60,291.80 L67.10,291.67 L67.60,291.73 L68.10,291.71 L68.60,291.87 L69.10,291.91 L69.60,292.03 L70.10,292.07 L70.60,292.16 L71.10,292.43 L71.60,292.23 L72.10,292.08 L72.60,292.02 L73.10,292.13 L73.60,292.11 L74.10,292.32 L74.60,292.13 L75.10,292.16 L75.60,292.33 L76.10,292.54 L76.60,292.30 L77.10,292.13 L77.60,292.47 L78.10,292.33 L78.60,292.45 L79.10,292.65 L79.60,292.69 L80.10,292.51 L80.60,292.34 L81.10,292.62 L81.60,292.50 L82.10,292.68 L82.60,292.47 L83.10,292.52 L83.60,292.29 L84.10,292.13 L84.60,292.25 L85.10,292.08 L85.60,292.29 L86.10,290.26 L86.60,286.38 L87.10,279.94 L87.60,272.15 L88.10,270.74 L88.60,275.88 L89.10,283.52 L89.60,287.76 L90.10,290.72 L90.60,292.14 L91.10,291.93 L91.60,291.87 L92.10,292.09 L92.60,292.18 L93.10,292.21 L93.60,292.19 L94.10,292.21 L94.60,292.26 L95.10,292.27 L95.60,292.13 L96.10,292.27 L96.60,292.38 L97.10,292.32 L97.60,292.51 L98.10,292.59 L98.60,292.34 L99.10,292.43 L99.60,292.47 L100.10,292.72 L100.60,292.57 L101.10,292.38 L101.60,292.49 L102.10,292.23 L102.60,292.05 L103.10,292.17 L103.60,291.93 L104.10,291.83 L104.60,291.64 L105.10,291.65 L105.60,291.45 L106.10,291.29 L106.60,291.48 L107.10,291.52 L107.60,291.48 L108.10,291.41 L108.60,291.79 L109.10,291.97 L109.60,292.09 L110.10,292.32 L110.60,292.36 L111.10,292.40 L111.60,292.41 L112.10,292.31 L112.60,292.40 L113.10,292.42 L113.60,292.25 L114.10,292.51 L114.60,292.40 L115.10,292.28 L115.60,292.41 L116.10,292.52 L116.60,292.32 L117.10,292.48 L117.60,292.59 L118.10,292.53 L118.60,292.39 L119.10,292.60 L119.60,292.60 L120.10,292.60 L120.60,292.37 L121.10,292.42 L121.60,292.25 L122.10,292.47 L122.60,292.50 L123.10,292.37 L123.60,292.20 L124.10,292.30 L124.60,292.45 L125.10,292.56 L125.60,292.43 L126.10,292.51 L126.60,292.27 L127.10,292.13 L127.60,292.35 L128.10,292.42 L128.60,292.20 L129.10,292.17 L129.60,292.07 L130.10,292.23 L130.60,292.41 L131.10,292.43 L131.60,292.22 L132.10,292.35 L132.60,292.38 L133.10,292.37 L133.60,292.37 L134.10,292.37 L134.60,292.15 L135.10,292.38 L135.60,292.57 L136.10,292.24 L136.60,292.11 L137.10,292.00 L137.60,292.19 L138.10,292.06 L138.60,292.01 L139.10,292.30 L139.60,292.22 L140.10,292.13 L140.60,292.13 L141.10,292.18 L141.60,292.30 L142.10,292.32 L142.60,292.36 L143.10,292.44 L143.60,292.23 L144.10,292.25 L144.60,292.01 L145.10,292.23 L145.60,291.98 L146.10,291.96 L146.60,291.86 L147.10,291.83 L147.60,291.82 L148.10,291.97 L148.60,292.31 L149.10,292.16 L149.60,292.36 L150.10,292.24 L150.60,291.29 L151.10,290.47 L151.60,289.71 L152.10,288.69 L152.60,289.03 L153.10,290.20 L153.60,291.34 L154.10,291.90 L154.60,291.72 L155.10,291.37 L155.60,291.27 L156.10,291.17 L156.60,291.05 L157.10,291.63 L157.60,292.29 L158.10,291.35 L158.60,290.43 L159.10,289.65 L159.60,289.99 L160.10,290.99 L160.60,291.52 L161.10,291.86 L161.60,292.07 L162.10,292.04 L162.60,291.98 L163.10,291.79 L163.60,291.65 L164.10,291.26 L164.60,290.75 L165.10,289.36 L165.60,287.74 L166.10,285.76 L166.60,283.87 L167.10,282.36 L167.60,280.43 L168.10,280.51 L168.60,282.17 L169.10,282.73 L169.60,280.62 L170.10,276.76 L170.60,278.65 L171.10,282.85 L171.60,287.31 L172.10,289.42 L172.60,289.69 L173.10,289.79 L173.60,289.78 L174.10,289.53 L174.60,289.15 L175.10,288.48 L175.60,286.93 L176.10,281.35 L176.60,276.81 L177.10,277.54 L177.60,282.74 L178.10,289.15 L178.60,290.52 L179.10,291.62 L179.60,291.18 L180.10,290.71 L180.60,290.72 L181.10,291.48 L181.60,292.25 L182.10,292.19 L182.60,292.29 L183.10,292.44 L183.60,292.40 L184.10,292.33 L184.60,292.58 L185.10,292.55 L185.60,292.49 L186.10,292.24 L186.60,292.06 L187.10,292.21 L187.60,292.03 L188.10,291.96 L188.60,292.15 L189.10,292.13 L189.60,292.26 L190.10,292.01 L190.60,292.01 L191.10,291.94 L191.60,291.97 L192.10,292.06 L192.60,292.11 L193.10,292.23 L193.60,292.52 L194.10,292.48 L194.60,292.74 L195.10,292.82 L195.60,292.53 L196.10,292.70 L196.60,292.74 L197.10,292.75 L197.60,292.39 L198.10,292.50 L198.60,292.62 L199.10,292.29 L199.60,292.44 L200.10,292.18 L200.60,292.17 L201.10,292.11 L201.60,292.04 L202.10,292.19 L202.60,292.18 L203.10,292.53 L203.60,292.39 L204.10,292.45 L204.60,292.41 L205.10,292.67 L205.60,292.50 L206.10,292.34 L206.60,292.65 L207.10,292.70 L207.60,292.61 L208.10,292.45 L208.60,292.64 L209.10,292.76 L209.60,292.80 L210.10,292.65 L210.60,292.52 L211.10,292.62 L211.60,292.68 L212.10,292.71 L212.60,292.74 L213.10,292.73 L213.60,292.88 L214.00,293.30 Z" stroke="none" fill="#c8102e" stroke-width="1" />
<line x1="43.00" y1="293.30" x2="214.30" y2="293.30" stroke="#111" stroke-width="1.2" />
<path d="M43.60,325.00 L43.60,324.67 L44.10,324.20 L44.60,324.33 L45.10,324.18 L45.60,324.49 L46.10,324.29 L46.60,324.16 L47.10,324.14 L47.60,324.23 L48.10,324.30 L48.60,324.23 L49.10,324.03 L49.60,324.42 L50.10,324.65 L50.60,324.34 L51.10,324.07 L51.60,324.20 L52.10,324.31 L52.60,324.19 L53.10,324.47 L53.60,324.56 L54.10,324.65 L54.60,324.45 L55.10,324.52 L55.60,324.61 L56.10,324.35 L56.60,324.06 L57.10,324.34 L57.60,324.21 L58.10,324.34 L58.60,324.11 L59.10,324.18 L59.60,324.41 L60.10,324.57 L60.60,324.77 L61.10,324.57 L61.60,324.54 L62.10,324.66 L62.60,324.59 L63.10,324.59 L63.60,324.29 L64.10,324.55 L64.60,324.13 L65.10,324.25 L65.60,324.24 L66.10,324.31 L66.60,324.11 L67.10,324.02 L67.60,324.15 L68.10,324.23 L68.60,323.98 L69.10,323.69 L69.60,323.77 L70.10,323.56 L70.60,323.39 L71.10,323.64 L71.60,323.93 L72.10,324.09 L72.60,323.87 L73.10,323.81 L73.60,323.60 L74.10,323.58 L74.60,323.99 L75.10,324.22 L75.60,324.25 L76.10,324.29 L76.60,323.96 L77.10,323.67 L77.60,323.48 L78.10,323.78 L78.60,323.52 L79.10,323.73 L79.60,323.74 L80.10,323.53 L80.60,323.82 L81.10,323.94 L81.60,323.50 L82.10,323.62 L82.60,323.61 L83.10,323.44 L83.60,323.28 L84.10,323.63 L84.60,323.66 L85.10,323.64 L85.60,323.63 L86.10,323.83 L86.60,323.71 L87.10,323.45 L87.60,323.71 L88.10,323.77 L88.60,324.10 L89.10,324.20 L89.60,324.02 L90.10,324.31 L90.60,323.94 L91.10,323.73 L91.60,324.16 L92.10,323.83 L92.60,324.04 L93.10,323.89 L93.60,323.82 L94.10,324.09 L94.60,323.98 L95.10,323.94 L95.60,323.83 L96.10,324.12 L96.60,323.96 L97.10,323.74 L97.60,323.82 L98.10,323.96 L98.60,324.30 L99.10,324.23 L99.60,324.29 L100.10,324.07 L100.60,323.95 L101.10,323.94 L101.60,324.16 L102.10,323.95 L102.60,323.83 L103.10,324.05 L103.60,323.67 L104.10,323.61 L104.60,323.91 L105.10,323.51 L105.60,323.80 L106.10,323.80 L106.60,323.53 L107.10,323.46 L107.60,323.46 L108.10,323.40 L108.60,323.48 L109.10,323.62 L109.60,323.77 L110.10,323.91 L110.60,323.56 L111.10,323.35 L111.60,323.38 L112.10,323.27 L112.60,323.45 L113.10,323.60 L113.60,323.60 L114.10,323.27 L114.60,323.65 L115.10,323.53 L115.60,323.63 L116.10,323.34 L116.60,323.46 L117.10,323.53 L117.60,323.52 L118.10,323.42 L118.60,323.21 L119.10,323.38 L119.60,323.14 L120.10,323.49 L120.60,323.58 L121.10,323.73 L121.60,323.80 L122.10,323.41 L122.60,323.25 L123.10,323.52 L123.60,323.66 L124.10,323.58 L124.60,323.33 L125.10,323.16 L125.60,323.13 L126.10,323.21 L126.60,323.55 L127.10,323.55 L127.60,323.69 L128.10,323.55 L128.60,323.45 L129.10,323.64 L129.60,323.71 L130.10,323.40 L130.60,323.72 L131.10,323.37 L131.60,323.14 L132.10,322.97 L132.60,323.26 L133.10,323.28 L133.60,323.27 L134.10,323.23 L134.60,322.98 L135.10,323.04 L135.60,323.31 L136.10,323.08 L136.60,323.21 L137.10,323.19 L137.60,323.09 L138.10,323.51 L138.60,323.21 L139.10,323.13 L139.60,323.19 L140.10,323.20 L140.60,323.26 L141.10,323.46 L141.60,323.35 L142.10,323.61 L142.60,323.45 L143.10,323.27 L143.60,323.32 L144.10,323.26 L144.60,322.98 L145.10,322.89 L145.60,323.34 L146.10,323.14 L146.60,323.15 L147.10,323.53 L147.60,323.52 L148.10,323.60 L148.60,323.75 L149.10,323.52 L149.60,323.16 L150.10,323.37 L150.60,323.11 L151.10,323.09 L151.60,323.43 L152.10,323.13 L152.60,323.15 L153.10,322.93 L153.60,322.96 L154.10,322.95 L154.60,323.20 L155.10,323.02 L155.60,322.84 L156.10,322.80 L156.60,323.04 L157.10,322.95 L157.60,323.08 L158.10,323.38 L158.60,323.57 L159.10,323.64 L159.60,323.59 L160.10,323.59 L160.60,323.39 L161.10,323.17 L161.60,323.17 L162.10,323.26 L162.60,323.16 L163.10,323.35 L163.60,323.35 L164.10,323.17 L164.60,323.31 L165.10,323.54 L165.60,323.20 L166.10,323.15 L166.60,323.37 L167.10,323.48 L167.60,323.44 L168.10,323.39 L168.60,323.62 L169.10,323.88 L169.60,323.89 L170.10,323.53 L170.60,323.77 L171.10,323.70 L171.60,323.85 L172.10,323.94 L172.60,324.01 L173.10,323.92 L173.60,324.04 L174.10,324.20 L174.60,324.24 L175.10,324.24 L175.60,324.04 L176.10,324.24 L176.60,324.37 L177.10,324.18 L177.60,324.12 L178.10,323.91 L178.60,324.25 L179.10,324.20 L179.60,324.20 L180.10,324.44 L180.60,323.94 L181.10,324.17 L181.60,324.37 L182.10,324.22 L182.60,324.35 L183.10,324.11 L183.60,324.17 L184.10,324.34 L184.60,324.47 L185.10,324.10 L185.60,324.21 L186.10,323.92 L186.60,323.99 L187.10,323.72 L187.60,323.99 L188.10,324.16 L188.60,324.24 L189.10,323.91 L189.60,323.87 L190.10,324.04 L190.60,324.28 L191.10,324.02 L191.60,323.70 L192.10,323.78 L192.60,324.21 L193.10,324.40 L193.60,324.46 L194.10,324.43 L194.60,324.50 L195.10,324.53 L195.60,324.15 L196.10,323.80 L196.60,324.08 L197.10,323.71 L197.60,323.85 L198.10,323.71 L198.60,323.56 L199.10,323.47 L199.60,324.01 L200.10,324.11 L200.60,323.97 L201.10,323.68 L201.60,324.10 L202.10,324.18 L202.60,323.86 L203.10,324.18 L203.60,324.17 L204.10,324.20 L204.60,323.99 L205.10,323.73 L205.60,324.10 L206.10,323.91 L206.60,323.83 L207.10,323.73 L207.60,323.86 L208.10,323.69 L208.60,323.98 L209.10,324.09 L209.60,324.27 L210.10,324.00 L210.60,324.07 L211.10,324.24 L211.60,324.40 L212.10,324.12 L212.60,324.06 L213.10,323.97 L213.60,324.13 L214.00,325.00 Z" stroke="none" fill="#222" stroke-width="1" />
<line x1="42.40" y1="325.00" x2="214.30" y2="325.00" stroke="#111" stroke-width="1.2" />
<rect x="164.3" y="269.3" width="6.6" height="71.8" fill="none" stroke="#e0303e" stroke-width="0.9" stroke-dasharray="2 1.3"/>
<line x1="190.20" y1="284.60" x2="207.50" y2="284.60" stroke="#333" stroke-width="0.9" />
<line x1="190.20" y1="283.00" x2="190.20" y2="286.20" stroke="#333" stroke-width="0.9" />
<line x1="207.50" y1="283.00" x2="207.50" y2="286.20" stroke="#333" stroke-width="0.9" />
<text x="199.20" y="278.80" font-size="7.4" text-anchor="middle" dominant-baseline="central" stroke="#222" stroke-width="0.06">2 kb</text>
<text x="213.80" y="281.80" font-size="7.4" dominant-baseline="central" stroke="#222" stroke-width="0.06">PML/RAR&#945;</text>
<text x="213.80" y="310.60" font-size="7.4" dominant-baseline="central" stroke="#222" stroke-width="0.06">Input</text>
<rect x="74.40" y="335.90" width="11.10" height="2.40" fill="#2a2a8c" />
<rect x="85.00" y="334.80" width="1.60" height="4.60" fill="#2a2a8c" />
<line x1="86.50" y1="337.10" x2="169.20" y2="337.10" stroke="#2a2a8c" stroke-width="0.9" />
<rect x="106.60" y="334.80" width="1.10" height="4.60" fill="#2a2a8c" />
<rect x="122.30" y="334.80" width="1.10" height="4.60" fill="#2a2a8c" />
<rect x="124.10" y="334.80" width="3.10" height="4.60" fill="#2a2a8c" />
<rect x="141.90" y="334.80" width="1.60" height="4.60" fill="#2a2a8c" />
<path d="M145.3,334.80 L147.3,337.10 L145.3,339.40" stroke="#2a2a8c" fill="none" stroke-width="1.1" />
<rect x="60.20" y="342.10" width="25.30" height="2.40" fill="#2a2a8c" />
<rect x="85.00" y="341.00" width="1.60" height="4.60" fill="#2a2a8c" />
<line x1="86.50" y1="343.30" x2="175.70" y2="343.30" stroke="#2a2a8c" stroke-width="0.9" />
<rect x="106.60" y="341.00" width="1.10" height="4.60" fill="#2a2a8c" />
<rect x="122.30" y="341.00" width="1.10" height="4.60" fill="#2a2a8c" />
<rect x="124.10" y="341.00" width="3.10" height="4.60" fill="#2a2a8c" />
<rect x="141.90" y="341.00" width="1.60" height="4.60" fill="#2a2a8c" />
<path d="M145.3,341.00 L147.3,343.30 L145.3,345.60" stroke="#2a2a8c" fill="none" stroke-width="1.1" />
<rect x="174.50" y="341.70" width="2.20" height="3.20" fill="#2a2a8c" />
<rect x="74.40" y="348.00" width="11.10" height="2.40" fill="#2a2a8c" />
<rect x="85.00" y="346.90" width="1.60" height="4.60" fill="#2a2a8c" />
<line x1="86.50" y1="349.20" x2="150.10" y2="349.20" stroke="#2a2a8c" stroke-width="0.9" />
<rect x="106.60" y="346.90" width="1.10" height="4.60" fill="#2a2a8c" />
<rect x="122.30" y="346.90" width="1.10" height="4.60" fill="#2a2a8c" />
<rect x="124.10" y="346.90" width="3.10" height="4.60" fill="#2a2a8c" />
<rect x="141.90" y="346.90" width="1.60" height="4.60" fill="#2a2a8c" />
<path d="M145.3,346.90 L147.3,349.20 L145.3,351.50" stroke="#2a2a8c" fill="none" stroke-width="1.1" />
<rect x="148.90" y="347.60" width="2.20" height="3.20" fill="#2a2a8c" />
<rect x="168.40" y="335.50" width="1.60" height="3.20" fill="#2a2a8c" />
<path d="M169.40,337.00 L169.40,330.20 L159.30,330.20" stroke="#222" fill="none" stroke-width="0.9" />
<path d="M156.3,330.2 L159.6,328.4 L159.6,332.0 Z" stroke="none" fill="#222" stroke-width="1" />
<text x="176.00" y="337.30" font-size="7.6" textLength="14.60" lengthAdjust="spacingAndGlyphs" dominant-baseline="central" stroke="#222" stroke-width="0.06">GFI1</text>
<text x="42.30" y="379.70" font-size="7.2" textLength="88.10" lengthAdjust="spacingAndGlyphs" dominant-baseline="central" stroke="#222" stroke-width="0.06">chr14:23,116,483-23,122,326</text>
<line x1="43.00" y1="384.70" x2="43.00" y2="445.10" stroke="#222" stroke-width="1.2" />
<line x1="40.30" y1="385.40" x2="43.00" y2="385.40" stroke="#222" stroke-width="1" />
<line x1="40.30" y1="417.10" x2="43.00" y2="417.10" stroke="#222" stroke-width="1" />
<text x="37.30" y="385.60" font-size="7.6" text-anchor="end" dominant-baseline="central" stroke="#222" stroke-width="0.06">50</text>
<text x="37.30" y="417.30" font-size="7.6" text-anchor="end" dominant-baseline="central" stroke="#222" stroke-width="0.06">50</text>
<text x="22.30" y="411.40" font-size="8.6" text-anchor="middle" textLength="27.00" lengthAdjust="spacingAndGlyphs" dominant-baseline="central" transform="rotate(-90 22.30 411.40)" stroke="#222" stroke-width="0.2">rpm / bp</text>
<path d="M43.60,413.30 L43.60,413.18 L44.10,412.99 L44.60,412.66 L45.10,412.56 L45.60,412.29 L46.10,412.00 L46.60,411.84 L47.10,411.85 L47.60,411.75 L48.10,411.54 L48.60,411.65 L49.10,411.70 L49.60,411.80 L50.10,412.00 L50.60,412.02 L51.10,412.11 L51.60,412.30 L52.10,412.42 L52.60,412.60 L53.10,412.63 L53.60,412.47 L54.10,412.60 L54.60,412.54 L55.10,412.62 L55.60,412.67 L56.10,412.55 L56.60,412.58 L57.10,412.65 L57.60,412.65 L58.10,412.52 L58.60,412.47 L59.10,412.59 L59.60,412.58 L60.10,412.39 L60.60,412.47 L61.10,412.41 L61.60,412.41 L62.10,412.31 L62.60,412.29 L63.10,412.23 L63.60,412.25 L64.10,412.33 L64.60,412.37 L65.10,412.41 L65.60,412.28 L66.10,412.41 L66.60,412.51 L67.10,412.34 L67.60,412.46 L68.10,412.37 L68.60,412.54 L69.10,412.54 L69.60,412.62 L70.10,412.50 L70.60,412.44 L71.10,412.38 L71.60,412.30 L72.10,412.20 L72.60,412.26 L73.10,412.20 L73.60,412.18 L74.10,412.23 L74.60,412.05 L75.10,412.02 L75.60,412.00 L76.10,412.16 L76.60,412.18 L77.10,412.23 L77.60,412.21 L78.10,412.38 L78.60,412.42 L79.10,412.42 L79.60,412.55 L80.10,412.49 L80.60,412.34 L81.10,412.31 L81.60,412.20 L82.10,412.13 L82.60,412.15 L83.10,412.10 L83.60,411.88 L84.10,411.90 L84.60,411.85 L85.10,411.88 L85.60,411.83 L86.10,411.81 L86.60,411.71 L87.10,411.74 L87.60,411.76 L88.10,411.78 L88.60,411.92 L89.10,411.95 L89.60,412.10 L90.10,412.23 L90.60,412.15 L91.10,412.13 L91.60,412.12 L92.10,412.24 L92.60,412.24 L93.10,412.34 L93.60,412.25 L94.10,412.24 L94.60,412.40 L95.10,412.32 L95.60,412.44 L96.10,412.51 L96.60,412.38 L97.10,412.42 L97.60,412.37 L98.10,412.30 L98.60,412.41 L99.10,412.28 L99.60,412.32 L100.10,412.27 L100.60,412.19 L101.10,412.00 L101.60,411.85 L102.10,411.84 L102.60,411.84 L103.10,411.73 L103.60,411.60 L104.10,411.58 L104.60,411.51 L105.10,411.29 L105.60,411.16 L106.10,410.98 L106.60,410.86 L107.10,410.78 L107.60,410.83 L108.10,410.87 L108.60,410.87 L109.10,411.06 L109.60,411.25 L110.10,411.45 L110.60,411.71 L111.10,411.79 L111.60,411.91 L112.10,411.95 L112.60,411.88 L113.10,411.88 L113.60,412.03 L114.10,411.97 L114.60,411.63 L115.10,411.54 L115.60,411.35 L116.10,411.03 L116.60,410.76 L117.10,410.54 L117.60,410.11 L118.10,409.60 L118.60,408.96 L119.10,408.46 L119.60,407.84 L120.10,407.25 L120.60,406.32 L121.10,405.65 L121.60,404.84 L122.10,403.92 L122.60,402.35 L123.10,400.84 L123.60,399.41 L124.10,397.86 L124.60,396.63 L125.10,395.30 L125.60,394.01 L126.10,392.57 L126.60,391.79 L127.10,392.97 L127.60,394.17 L128.10,395.24 L128.60,396.41 L129.10,398.11 L129.60,399.78 L130.10,401.51 L130.60,403.34 L131.10,404.94 L131.60,406.33 L132.10,407.77 L132.60,409.15 L133.10,409.80 L133.60,410.56 L134.10,411.36 L134.60,412.14 L135.10,412.28 L135.60,412.22 L136.10,412.15 L136.60,412.15 L137.10,412.28 L137.60,412.33 L138.10,412.31 L138.60,412.30 L139.10,412.35 L139.60,412.42 L140.10,412.43 L140.60,412.52 L141.10,412.50 L141.60,412.06 L142.10,411.60 L142.60,411.31 L143.10,411.04 L143.60,410.75 L144.10,410.41 L144.60,409.99 L145.10,410.41 L145.60,410.68 L146.10,411.20 L146.60,411.61 L147.10,411.89 L147.60,411.96 L148.10,411.93 L148.60,411.95 L149.10,411.96 L149.60,412.09 L150.10,412.25 L150.60,411.90 L151.10,411.58 L151.60,411.29 L152.10,411.02 L152.60,410.53 L153.10,410.02 L153.60,409.76 L154.10,409.28 L154.60,408.90 L155.10,408.43 L155.60,407.68 L156.10,406.96 L156.60,406.36 L157.10,405.85 L157.60,405.08 L158.10,405.26 L158.60,405.49 L159.10,405.60 L159.60,405.89 L160.10,406.14 L160.60,406.13 L161.10,406.19 L161.60,406.45 L162.10,406.62 L162.60,406.80 L163.10,407.13 L163.60,407.93 L164.10,408.55 L164.60,409.49 L165.10,410.26 L165.60,410.78 L166.10,411.32 L166.60,411.73 L167.10,412.04 L167.60,412.00 L168.10,412.06 L168.60,412.06 L169.10,412.28 L169.60,412.34 L170.10,412.23 L170.60,412.41 L171.10,412.47 L171.60,412.47 L172.10,412.53 L172.60,412.46 L173.10,412.54 L173.60,412.53 L174.10,412.33 L174.60,412.43 L175.10,412.28 L175.60,412.38 L176.10,412.21 L176.60,412.20 L177.10,412.20 L177.60,412.31 L178.10,412.38 L178.60,412.22 L179.10,412.27 L179.60,412.28 L180.10,412.11 L180.60,412.00 L181.10,412.13 L181.60,411.96 L182.10,411.96 L182.60,411.99 L183.10,412.06 L183.60,412.01 L184.10,411.82 L184.60,411.89 L185.10,411.96 L185.60,412.07 L186.10,412.17 L186.60,412.19 L187.10,412.10 L187.60,412.30 L188.10,412.40 L188.60,412.30 L189.10,412.27 L189.60,412.30 L190.10,412.52 L190.60,412.58 L191.10,412.46 L191.60,412.52 L192.10,412.50 L192.60,412.59 L193.10,412.71 L193.60,412.69 L194.10,412.58 L194.60,412.52 L195.10,412.55 L195.60,412.59 L196.10,412.59 L196.60,412.62 L197.10,412.61 L197.60,412.54 L198.10,412.66 L198.60,412.63 L199.10,412.53 L199.60,412.50 L200.10,412.66 L200.60,412.54 L201.10,412.52 L201.60,412.67 L202.10,412.73 L202.60,412.78 L203.10,412.84 L203.60,412.64 L204.10,412.68 L204.60,412.59 L205.10,412.74 L205.60,412.84 L206.10,412.67 L206.60,412.61 L207.10,412.54 L207.60,412.58 L208.10,412.64 L208.60,412.61 L209.10,412.77 L209.60,412.73 L210.10,412.74 L210.60,412.83 L211.10,412.75 L211.60,412.79 L212.10,412.76 L212.60,412.78 L213.10,412.81 L213.60,412.82 L214.00,413.30 Z" stroke="none" fill="#c8102e" stroke-width="1" />
<line x1="43.00" y1="413.30" x2="214.30" y2="413.30" stroke="#111" stroke-width="1.2" />
<path d="M43.60,444.50 L43.60,444.35 L44.10,444.15 L44.60,444.04 L45.10,443.99 L45.60,443.96 L46.10,444.06 L46.60,443.92 L47.10,444.02 L47.60,444.08 L48.10,444.01 L48.60,443.90 L49.10,443.92 L49.60,443.84 L50.10,443.88 L50.60,443.71 L51.10,443.74 L51.60,443.73 L52.10,443.69 L52.60,443.57 L53.10,443.48 L53.60,443.54 L54.10,443.59 L54.60,443.56 L55.10,443.67 L55.60,443.64 L56.10,443.51 L56.60,443.45 L57.10,443.59 L57.60,443.46 L58.10,443.50 L58.60,443.37 L59.10,443.45 L59.60,443.52 L60.10,443.47 L60.60,443.38 L61.10,443.46 L61.60,443.39 L62.10,443.41 L62.60,443.51 L63.10,443.58 L63.60,443.58 L64.10,443.61 L64.60,443.64 L65.10,443.59 L65.60,443.52 L66.10,443.56 L66.60,443.70 L67.10,443.76 L67.60,443.76 L68.10,443.70 L68.60,443.80 L69.10,443.88 L69.60,443.86 L70.10,443.86 L70.60,443.91 L71.10,443.81 L71.60,443.65 L72.10,443.67 L72.60,443.62 L73.10,443.57 L73.60,443.53 L74.10,443.49 L74.60,443.58 L75.10,443.57 L75.60,443.69 L76.10,443.56 L76.60,443.61 L77.10,443.61 L77.60,443.50 L78.10,443.59 L78.60,443.66 L79.10,443.53 L79.60,443.51 L80.10,443.63 L80.60,443.69 L81.10,443.64 L81.60,443.69 L82.10,443.50 L82.60,443.56 L83.10,443.56 L83.60,443.52 L84.10,443.47 L84.60,443.45 L85.10,443.39 L85.60,443.34 L86.10,443.37 L86.60,443.46 L87.10,443.28 L87.60,443.25 L88.10,443.38 L88.60,443.35 L89.10,443.25 L89.60,443.13 L90.10,443.30 L90.60,443.40 L91.10,443.36 L91.60,443.38 L92.10,443.28 L92.60,443.27 L93.10,443.40 L93.60,443.46 L94.10,443.46 L94.60,443.41 L95.10,443.56 L95.60,443.61 L96.10,443.73 L96.60,443.66 L97.10,443.80 L97.60,443.66 L98.10,443.70 L98.60,443.73 L99.10,443.88 L99.60,443.94 L100.10,443.91 L100.60,443.79 L101.10,443.80 L101.60,443.87 L102.10,443.73 L102.60,443.73 L103.10,443.77 L103.60,443.86 L104.10,443.88 L104.60,443.74 L105.10,443.86 L105.60,443.82 L106.10,443.77 L106.60,443.81 L107.10,443.73 L107.60,443.64 L108.10,443.61 L108.60,443.63 L109.10,443.76 L109.60,443.87 L110.10,443.82 L110.60,443.81 L111.10,443.83 L111.60,443.66 L112.10,443.73 L112.60,443.61 L113.10,443.51 L113.60,443.66 L114.10,443.52 L114.60,443.58 L115.10,443.64 L115.60,443.67 L116.10,443.72 L116.60,443.62 L117.10,443.58 L117.60,443.44 L118.10,443.37 L118.60,443.52 L119.10,443.51 L119.60,443.53 L120.10,443.60 L120.60,443.62 L121.10,443.64 L121.60,443.55 L122.10,443.61 L122.60,443.70 L123.10,443.73 L123.60,443.70 L124.10,443.66 L124.60,443.73 L125.10,443.66 L125.60,443.76 L126.10,443.70 L126.60,443.69 L127.10,443.81 L127.60,443.73 L128.10,443.79 L128.60,443.79 L129.10,443.79 L129.60,443.79 L130.10,443.84 L130.60,443.94 L131.10,443.80 L131.60,443.70 L132.10,443.74 L132.60,443.73 L133.10,443.80 L133.60,443.66 L134.10,443.64 L134.60,443.74 L135.10,443.63 L135.60,443.53 L136.10,443.63 L136.60,443.51 L137.10,443.58 L137.60,443.67 L138.10,443.58 L138.60,443.62 L139.10,443.54 L139.60,443.53 L140.10,443.63 L140.60,443.57 L141.10,443.45 L141.60,443.48 L142.10,443.47 L142.60,443.38 L143.10,443.43 L143.60,443.44 L144.10,443.40 L144.60,443.31 L145.10,443.40 L145.60,443.46 L146.10,443.31 L146.60,443.27 L147.10,443.30 L147.60,443.16 L148.10,443.07 L148.60,443.10 L149.10,442.99 L149.60,442.96 L150.10,442.96 L150.60,443.05 L151.10,443.15 L151.60,443.00 L152.10,442.89 L152.60,442.90 L153.10,442.85 L153.60,442.78 L154.10,442.80 L154.60,442.67 L155.10,442.64 L155.60,442.76 L156.10,442.93 L156.60,442.95 L157.10,443.05 L157.60,443.04 L158.10,443.22 L158.60,443.29 L159.10,443.41 L159.60,443.46 L160.10,443.47 L160.60,443.57 L161.10,443.64 L161.60,443.57 L162.10,443.61 L162.60,443.56 L163.10,443.62 L163.60,443.68 L164.10,443.60 L164.60,443.47 L165.10,443.42 L165.60,443.49 L166.10,443.56 L166.60,443.69 L167.10,443.70 L167.60,443.70 L168.10,443.55 L168.60,443.69 L169.10,443.55 L169.60,443.61 L170.10,443.65 L170.60,443.70 L171.10,443.54 L171.60,443.65 L172.10,443.61 L172.60,443.60 L173.10,443.66 L173.60,443.68 L174.10,443.50 L174.60,443.45 L175.10,443.44 L175.60,443.38 L176.10,443.55 L176.60,443.48 L177.10,443.43 L177.60,443.53 L178.10,443.51 L178.60,443.37 L179.10,443.46 L179.60,443.39 L180.10,443.48 L180.60,443.34 L181.10,443.32 L181.60,443.22 L182.10,443.16 L182.60,442.96 L183.10,442.86 L183.60,442.82 L184.10,442.72 L184.60,442.70 L185.10,442.55 L185.60,442.57 L186.10,442.47 L186.60,442.37 L187.10,442.33 L187.60,442.40 L188.10,442.58 L188.60,442.63 L189.10,442.84 L189.60,442.88 L190.10,443.05 L190.60,443.10 L191.10,443.22 L191.60,443.40 L192.10,443.62 L192.60,443.77 L193.10,443.73 L193.60,443.67 L194.10,443.60 L194.60,443.76 L195.10,443.86 L195.60,443.71 L196.10,443.71 L196.60,443.78 L197.10,443.76 L197.60,443.91 L198.10,443.89 L198.60,443.86 L199.10,443.87 L199.60,444.00 L200.10,444.07 L200.60,443.98 L201.10,443.88 L201.60,444.01 L202.10,444.11 L202.60,444.15 L203.10,443.99 L203.60,444.01 L204.10,444.01 L204.60,443.87 L205.10,443.90 L205.60,444.01 L206.10,443.95 L206.60,444.10 L207.10,444.11 L207.60,444.01 L208.10,444.09 L208.60,444.17 L209.10,444.09 L209.60,444.10 L210.10,443.94 L210.60,444.09 L211.10,443.98 L211.60,444.04 L212.10,443.96 L212.60,444.02 L213.10,443.99 L213.60,444.06 L214.00,444.50 Z" stroke="none" fill="#222" stroke-width="1" />
<line x1="42.40" y1="444.50" x2="214.30" y2="444.50" stroke="#111" stroke-width="1.2" />
<rect x="120.6" y="388.1" width="19.9" height="71.8" fill="none" stroke="#5656b8" stroke-width="0.9" stroke-dasharray="2 1.3"/>
<line x1="174.50" y1="398.80" x2="210.00" y2="398.80" stroke="#333" stroke-width="0.9" />
<line x1="174.50" y1="397.20" x2="174.50" y2="400.40" stroke="#333" stroke-width="0.9" />
<line x1="210.00" y1="397.20" x2="210.00" y2="400.40" stroke="#333" stroke-width="0.9" />
<text x="192.40" y="393.00" font-size="7.4" text-anchor="middle" dominant-baseline="central" stroke="#222" stroke-width="0.06">1 kb</text>
<text x="213.80" y="396.80" font-size="7.4" dominant-baseline="central" stroke="#222" stroke-width="0.06">PML/RAR&#945;</text>
<text x="213.80" y="426.30" font-size="7.4" dominant-baseline="central" stroke="#222" stroke-width="0.06">Input</text>
<rect x="59.00" y="454.40" width="6.20" height="2.20" fill="#111" />
<rect x="65.00" y="453.30" width="12.00" height="4.40" fill="#111" />
<line x1="77.00" y1="455.50" x2="103.50" y2="455.50" stroke="#111" stroke-width="0.9" />
<rect x="103.50" y="453.30" width="16.90" height="4.40" fill="#111" />
<rect x="120.40" y="454.10" width="19.00" height="2.80" fill="#111" />
<line x1="139.40" y1="455.50" x2="139.40" y2="449.40" stroke="#222" stroke-width="0.9" />
<line x1="139.40" y1="449.40" x2="130.10" y2="449.40" stroke="#222" stroke-width="0.9" />
<path d="M127.60,449.40 L130.80,447.60 L130.80,451.20 Z" stroke="none" fill="#222" stroke-width="1" />
<text x="143.00" y="454.60" font-size="7.6" textLength="20.80" lengthAdjust="spacingAndGlyphs" dominant-baseline="central" stroke="#222" stroke-width="0.06">CEBPE</text>
<text x="360.10" y="250.00" font-size="9.6" text-anchor="middle" fill="#cd283c" textLength="18.60" lengthAdjust="spacingAndGlyphs" stroke="#cd283c" stroke-width="0.06">GFI1</text>
<text x="360.50" y="373.20" font-size="9.3" text-anchor="middle" fill="#46469e" textLength="27.40" lengthAdjust="spacingAndGlyphs" stroke="#46469e" stroke-width="0.06">CEBPE</text>
<text x="285.60" y="259.30" font-size="7.4" text-anchor="middle" textLength="31.00" lengthAdjust="spacingAndGlyphs" dominant-baseline="central" stroke="#222" stroke-width="0.06">U937 cells</text>
<text x="258.30" y="293.40" font-size="9" text-anchor="middle" textLength="56.70" lengthAdjust="spacingAndGlyphs" dominant-baseline="central" transform="rotate(-90 258.30 293.40)" stroke="#222" stroke-width="0.2">Relative luciferase</text>
<text x="269.40" y="293.40" font-size="9" text-anchor="middle" textLength="41.80" lengthAdjust="spacingAndGlyphs" dominant-baseline="central" transform="rotate(-90 269.40 293.40)" stroke="#222" stroke-width="0.2">activity (24 hr</text>
<text x="279.90" y="293.40" font-size="9" text-anchor="middle" textLength="55.00" lengthAdjust="spacingAndGlyphs" dominant-baseline="central" transform="rotate(-90 279.90 293.40)" stroke="#222" stroke-width="0.2">post-transfection)</text>
<line x1="307.50" y1="272.40" x2="307.50" y2="324.80" stroke="#222" stroke-width="1.2" />
<line x1="306.90" y1="324.20" x2="356.70" y2="324.20" stroke="#222" stroke-width="1.2" />
<line x1="304.20" y1="273.00" x2="307.50" y2="273.00" stroke="#222" stroke-width="1" />
<text x="302.00" y="273.20" font-size="7.4" text-anchor="end" dominant-baseline="central" stroke="#222" stroke-width="0.06">0.15</text>
<line x1="304.20" y1="290.10" x2="307.50" y2="290.10" stroke="#222" stroke-width="1" />
<text x="302.00" y="290.30" font-size="7.4" text-anchor="end" dominant-baseline="central" stroke="#222" stroke-width="0.06">0.10</text>
<line x1="304.20" y1="307.20" x2="307.50" y2="307.20" stroke="#222" stroke-width="1" />
<text x="302.00" y="307.40" font-size="7.4" text-anchor="end" dominant-baseline="central" stroke="#222" stroke-width="0.06">0.05</text>
<line x1="304.20" y1="324.20" x2="307.50" y2="324.20" stroke="#222" stroke-width="1" />
<text x="302.00" y="324.40" font-size="7.4" text-anchor="end" dominant-baseline="central" stroke="#222" stroke-width="0.06">0.00</text>
<path d="M316.50,310.40 L316.50,265.20 L346.00,265.20 L346.00,273.50" stroke="#555" fill="none" stroke-width="0.9" />
<text x="331.40" y="262.40" font-size="6.5" text-anchor="middle" fill="#333" dominant-baseline="central" stroke="#333" stroke-width="0.06">**</text>
<path d="M319.40,311.00 L319.40,272.00 L332.50,272.00 L332.50,290.80" stroke="#555" fill="none" stroke-width="0.9" />
<text x="325.90" y="270.00" font-size="6.5" text-anchor="middle" fill="#333" dominant-baseline="central" stroke="#333" stroke-width="0.06">*</text>
<rect x="315.00" y="317.90" width="7.00" height="6.30" fill="#c8102e" />
<line x1="318.50" y1="317.90" x2="318.50" y2="316.40" stroke="#333" stroke-width="0.9" />
<line x1="317.00" y1="316.40" x2="320.00" y2="316.40" stroke="#333" stroke-width="0.9" />
<line x1="318.50" y1="324.20" x2="318.50" y2="327.40" stroke="#222" stroke-width="0.9" />
<rect x="329.00" y="299.20" width="6.80" height="25.00" fill="#c8102e" />
<line x1="332.40" y1="299.20" x2="332.40" y2="293.10" stroke="#333" stroke-width="0.9" />
<line x1="330.90" y1="293.10" x2="333.90" y2="293.10" stroke="#333" stroke-width="0.9" />
<line x1="332.40" y1="324.20" x2="332.40" y2="327.40" stroke="#222" stroke-width="0.9" />
<rect x="342.80" y="282.70" width="7.00" height="41.50" fill="#c8102e" />
<line x1="346.30" y1="282.70" x2="346.30" y2="276.30" stroke="#333" stroke-width="0.9" />
<line x1="344.80" y1="276.30" x2="347.80" y2="276.30" stroke="#333" stroke-width="0.9" />
<line x1="346.30" y1="324.20" x2="346.30" y2="327.40" stroke="#222" stroke-width="0.9" />
<text x="306.50" y="334.70" font-size="7.4" text-anchor="end" textLength="32.30" lengthAdjust="spacingAndGlyphs" dominant-baseline="central" stroke="#222" stroke-width="0.06">pGL3-GFI1</text>
<text x="318.40" y="334.70" font-size="7.4" text-anchor="middle" dominant-baseline="central" stroke="#222" stroke-width="0.06">+</text>
<text x="332.30" y="334.70" font-size="7.4" text-anchor="middle" dominant-baseline="central" stroke="#222" stroke-width="0.06">+</text>
<text x="346.30" y="334.70" font-size="7.4" text-anchor="middle" dominant-baseline="central" stroke="#222" stroke-width="0.06">+</text>
<text x="306.50" y="344.60" font-size="7.4" text-anchor="end" textLength="51.50" lengthAdjust="spacingAndGlyphs" dominant-baseline="central" stroke="#222" stroke-width="0.06">pSG5-PML/RAR&#945;</text>
<text x="318.40" y="344.60" font-size="7.4" text-anchor="middle" dominant-baseline="central" stroke="#222" stroke-width="0.06">-</text>
<path d="M331.20,346.30 L346.50,346.30 L346.50,341.20 Z" stroke="none" fill="#111" stroke-width="1" />
<text x="396.50" y="262.60" font-size="7.4" text-anchor="middle" textLength="28.00" lengthAdjust="spacingAndGlyphs" dominant-baseline="central" stroke="#222" stroke-width="0.06">NB4 cells</text>
<text x="371.30" y="297.10" font-size="9" text-anchor="middle" textLength="56.60" lengthAdjust="spacingAndGlyphs" dominant-baseline="central" transform="rotate(-90 371.30 297.10)" stroke="#222" stroke-width="0.2">Relative luciferase</text>
<text x="383.20" y="297.10" font-size="9" text-anchor="middle" textLength="42.30" lengthAdjust="spacingAndGlyphs" dominant-baseline="central" transform="rotate(-90 383.20 297.10)" stroke="#222" stroke-width="0.2">activity (24 hr</text>
<text x="393.60" y="297.10" font-size="9" text-anchor="middle" textLength="55.00" lengthAdjust="spacingAndGlyphs" dominant-baseline="central" transform="rotate(-90 393.60 297.10)" stroke="#222" stroke-width="0.2">post-transfection)</text>
<line x1="417.40" y1="272.20" x2="417.40" y2="325.20" stroke="#222" stroke-width="1.2" />
<line x1="416.80" y1="324.60" x2="452.80" y2="324.60" stroke="#222" stroke-width="1.2" />
<line x1="414.10" y1="272.80" x2="417.40" y2="272.80" stroke="#222" stroke-width="1" />
<text x="411.00" y="273.00" font-size="7.4" text-anchor="end" dominant-baseline="central" stroke="#222" stroke-width="0.06">0.4</text>
<line x1="414.10" y1="285.70" x2="417.40" y2="285.70" stroke="#222" stroke-width="1" />
<text x="411.00" y="285.90" font-size="7.4" text-anchor="end" dominant-baseline="central" stroke="#222" stroke-width="0.06">0.3</text>
<line x1="414.10" y1="298.60" x2="417.40" y2="298.60" stroke="#222" stroke-width="1" />
<text x="411.00" y="298.80" font-size="7.4" text-anchor="end" dominant-baseline="central" stroke="#222" stroke-width="0.06">0.2</text>
<line x1="414.10" y1="311.50" x2="417.40" y2="311.50" stroke="#222" stroke-width="1" />
<text x="411.00" y="311.70" font-size="7.4" text-anchor="end" dominant-baseline="central" stroke="#222" stroke-width="0.06">0.1</text>
<line x1="414.10" y1="324.60" x2="417.40" y2="324.60" stroke="#222" stroke-width="1" />
<text x="411.00" y="324.80" font-size="7.4" text-anchor="end" dominant-baseline="central" stroke="#222" stroke-width="0.06">0.0</text>
<path d="M427.20,283.00 L427.20,266.20 L442.60,266.20 L442.60,311.50" stroke="#555" fill="none" stroke-width="0.9" />
<text x="435.00" y="263.80" font-size="6.5" text-anchor="middle" fill="#333" dominant-baseline="central" stroke="#333" stroke-width="0.06">*</text>
<rect x="424.20" y="293.00" width="7.00" height="31.60" fill="#c8102e" />
<line x1="427.70" y1="293.00" x2="427.70" y2="285.70" stroke="#333" stroke-width="0.9" />
<line x1="426.20" y1="285.70" x2="429.20" y2="285.70" stroke="#333" stroke-width="0.9" />
<line x1="427.70" y1="324.60" x2="427.70" y2="327.80" stroke="#222" stroke-width="0.9" />
<rect x="439.00" y="316.20" width="6.70" height="8.40" fill="#c8102e" />
<line x1="442.35" y1="316.20" x2="442.35" y2="315.40" stroke="#333" stroke-width="0.9" />
<line x1="440.85" y1="315.40" x2="443.85" y2="315.40" stroke="#333" stroke-width="0.9" />
<line x1="442.35" y1="324.60" x2="442.35" y2="327.80" stroke="#222" stroke-width="0.9" />
<text x="416.70" y="334.60" font-size="7.4" text-anchor="end" textLength="33.40" lengthAdjust="spacingAndGlyphs" dominant-baseline="central" stroke="#222" stroke-width="0.06">pGL3-GFI1</text>
<text x="427.70" y="334.60" font-size="7.4" text-anchor="middle" dominant-baseline="central" stroke="#222" stroke-width="0.06">+</text>
<text x="442.50" y="334.60" font-size="7.4" text-anchor="middle" dominant-baseline="central" stroke="#222" stroke-width="0.06">+</text>
<text x="416.70" y="344.60" font-size="7.4" text-anchor="end" textLength="33.70" lengthAdjust="spacingAndGlyphs" dominant-baseline="central" stroke="#222" stroke-width="0.06">N.C. siRNA</text>
<text x="427.70" y="344.60" font-size="7.4" text-anchor="middle" dominant-baseline="central" stroke="#222" stroke-width="0.06">+</text>
<text x="442.50" y="344.60" font-size="7.4" text-anchor="middle" dominant-baseline="central" stroke="#222" stroke-width="0.06">-</text>
<text x="416.70" y="354.70" font-size="7.4" text-anchor="end" textLength="53.50" lengthAdjust="spacingAndGlyphs" dominant-baseline="central" stroke="#222" stroke-width="0.06">PML/RAR&#945; siRNA</text>
<text x="427.70" y="354.70" font-size="7.4" text-anchor="middle" dominant-baseline="central" stroke="#222" stroke-width="0.06">-</text>
<text x="442.50" y="354.70" font-size="7.4" text-anchor="middle" dominant-baseline="central" stroke="#222" stroke-width="0.06">+</text>
<text x="285.40" y="382.00" font-size="7.4" text-anchor="middle" textLength="31.00" lengthAdjust="spacingAndGlyphs" dominant-baseline="central" stroke="#222" stroke-width="0.06">U937 cells</text>
<text x="258.30" y="417.50" font-size="9" text-anchor="middle" textLength="56.70" lengthAdjust="spacingAndGlyphs" dominant-baseline="central" transform="rotate(-90 258.30 417.50)" stroke="#222" stroke-width="0.2">Relative luciferase</text>
<text x="269.40" y="417.50" font-size="9" text-anchor="middle" textLength="41.80" lengthAdjust="spacingAndGlyphs" dominant-baseline="central" transform="rotate(-90 269.40 417.50)" stroke="#222" stroke-width="0.2">activity (24 hr</text>
<text x="279.90" y="417.50" font-size="9" text-anchor="middle" textLength="55.00" lengthAdjust="spacingAndGlyphs" dominant-baseline="central" transform="rotate(-90 279.90 417.50)" stroke="#222" stroke-width="0.2">post-transfection)</text>
<line x1="307.50" y1="391.50" x2="307.50" y2="444.50" stroke="#222" stroke-width="1.2" />
<line x1="306.90" y1="443.90" x2="356.70" y2="443.90" stroke="#222" stroke-width="1.2" />
<line x1="304.20" y1="392.10" x2="307.50" y2="392.10" stroke="#222" stroke-width="1" />
<text x="302.00" y="392.30" font-size="7.4" text-anchor="end" dominant-baseline="central" stroke="#222" stroke-width="0.06">0.04</text>
<line x1="304.20" y1="405.10" x2="307.50" y2="405.10" stroke="#222" stroke-width="1" />
<text x="302.00" y="405.30" font-size="7.4" text-anchor="end" dominant-baseline="central" stroke="#222" stroke-width="0.06">0.03</text>
<line x1="304.20" y1="418.00" x2="307.50" y2="418.00" stroke="#222" stroke-width="1" />
<text x="302.00" y="418.20" font-size="7.4" text-anchor="end" dominant-baseline="central" stroke="#222" stroke-width="0.06">0.02</text>
<line x1="304.20" y1="431.00" x2="307.50" y2="431.00" stroke="#222" stroke-width="1" />
<text x="302.00" y="431.20" font-size="7.4" text-anchor="end" dominant-baseline="central" stroke="#222" stroke-width="0.06">0.01</text>
<line x1="304.20" y1="443.90" x2="307.50" y2="443.90" stroke="#222" stroke-width="1" />
<text x="302.00" y="444.10" font-size="7.4" text-anchor="end" dominant-baseline="central" stroke="#222" stroke-width="0.06">0.00</text>
<path d="M317.30,403.00 L317.30,384.50 L346.70,384.50 L346.70,431.60" stroke="#555" fill="none" stroke-width="0.9" />
<text x="331.40" y="381.60" font-size="6.5" text-anchor="middle" fill="#333" dominant-baseline="central" stroke="#333" stroke-width="0.06">**</text>
<path d="M319.80,403.00 L319.80,390.40 L332.50,390.40 L332.50,428.50" stroke="#555" fill="none" stroke-width="0.9" />
<text x="325.60" y="387.60" font-size="6.5" text-anchor="middle" fill="#333" dominant-baseline="central" stroke="#333" stroke-width="0.06">**</text>
<rect x="315.60" y="408.00" width="6.40" height="35.90" fill="#27237f" />
<line x1="318.80" y1="408.00" x2="318.80" y2="403.70" stroke="#333" stroke-width="0.9" />
<line x1="317.30" y1="403.70" x2="320.30" y2="403.70" stroke="#333" stroke-width="0.9" />
<line x1="318.80" y1="443.90" x2="318.80" y2="447.10" stroke="#222" stroke-width="0.9" />
<rect x="329.00" y="432.00" width="6.70" height="11.90" fill="#27237f" />
<line x1="332.35" y1="432.00" x2="332.35" y2="429.00" stroke="#333" stroke-width="0.9" />
<line x1="330.85" y1="429.00" x2="333.85" y2="429.00" stroke="#333" stroke-width="0.9" />
<line x1="332.35" y1="443.90" x2="332.35" y2="447.10" stroke="#222" stroke-width="0.9" />
<rect x="343.00" y="435.20" width="6.40" height="8.70" fill="#27237f" />
<line x1="346.20" y1="435.20" x2="346.20" y2="432.70" stroke="#333" stroke-width="0.9" />
<line x1="344.70" y1="432.70" x2="347.70" y2="432.70" stroke="#333" stroke-width="0.9" />
<line x1="346.20" y1="443.90" x2="346.20" y2="447.10" stroke="#222" stroke-width="0.9" />
<text x="307.60" y="454.10" font-size="7.4" text-anchor="end" textLength="39.80" lengthAdjust="spacingAndGlyphs" dominant-baseline="central" stroke="#222" stroke-width="0.06">pGL3-CEBPE</text>
<text x="318.30" y="454.10" font-size="7.4" text-anchor="middle" dominant-baseline="central" stroke="#222" stroke-width="0.06">+</text>
<text x="332.20" y="454.10" font-size="7.4" text-anchor="middle" dominant-baseline="central" stroke="#222" stroke-width="0.06">+</text>
<text x="346.00" y="454.10" font-size="7.4" text-anchor="middle" dominant-baseline="central" stroke="#222" stroke-width="0.06">+</text>
<text x="307.60" y="464.20" font-size="7.4" text-anchor="end" textLength="52.60" lengthAdjust="spacingAndGlyphs" dominant-baseline="central" stroke="#222" stroke-width="0.06">pSG5-PML/RAR&#945;</text>
<text x="318.30" y="464.20" font-size="7.4" text-anchor="middle" dominant-baseline="central" stroke="#222" stroke-width="0.06">-</text>
<path d="M331.80,465.80 L346.00,465.80 L346.00,460.20 Z" stroke="none" fill="#111" stroke-width="1" />
<text x="396.30" y="382.00" font-size="7.4" text-anchor="middle" textLength="28.00" lengthAdjust="spacingAndGlyphs" dominant-baseline="central" stroke="#222" stroke-width="0.06">NB4 cells</text>
<text x="371.30" y="416.20" font-size="9" text-anchor="middle" textLength="56.60" lengthAdjust="spacingAndGlyphs" dominant-baseline="central" transform="rotate(-90 371.30 416.20)" stroke="#222" stroke-width="0.2">Relative luciferase</text>
<text x="383.00" y="416.20" font-size="9" text-anchor="middle" textLength="42.30" lengthAdjust="spacingAndGlyphs" dominant-baseline="central" transform="rotate(-90 383.00 416.20)" stroke="#222" stroke-width="0.2">activity (24 hr</text>
<text x="393.50" y="416.20" font-size="9" text-anchor="middle" textLength="55.00" lengthAdjust="spacingAndGlyphs" dominant-baseline="central" transform="rotate(-90 393.50 416.20)" stroke="#222" stroke-width="0.2">post-transfection)</text>
<line x1="416.30" y1="391.40" x2="416.30" y2="444.35" stroke="#222" stroke-width="1.2" />
<line x1="415.70" y1="443.75" x2="453.00" y2="443.75" stroke="#222" stroke-width="1.2" />
<line x1="413.00" y1="392.00" x2="416.30" y2="392.00" stroke="#222" stroke-width="1" />
<text x="410.50" y="392.20" font-size="7.4" text-anchor="end" dominant-baseline="central" stroke="#222" stroke-width="0.06">0.3</text>
<line x1="413.00" y1="409.25" x2="416.30" y2="409.25" stroke="#222" stroke-width="1" />
<text x="410.50" y="409.45" font-size="7.4" text-anchor="end" dominant-baseline="central" stroke="#222" stroke-width="0.06">0.2</text>
<line x1="413.00" y1="426.50" x2="416.30" y2="426.50" stroke="#222" stroke-width="1" />
<text x="410.50" y="426.70" font-size="7.4" text-anchor="end" dominant-baseline="central" stroke="#222" stroke-width="0.06">0.1</text>
<line x1="413.00" y1="443.75" x2="416.30" y2="443.75" stroke="#222" stroke-width="1" />
<text x="410.50" y="443.95" font-size="7.4" text-anchor="end" dominant-baseline="central" stroke="#222" stroke-width="0.06">0.0</text>
<path d="M428.00,423.75 L428.00,384.25 L442.50,384.25 L442.50,396.25" stroke="#555" fill="none" stroke-width="0.9" />
<text x="435.00" y="382.20" font-size="6.5" text-anchor="middle" fill="#333" dominant-baseline="central" stroke="#333" stroke-width="0.06">*</text>
<rect x="424.25" y="428.00" width="6.50" height="15.75" fill="#27237f" />
<line x1="427.50" y1="428.00" x2="427.50" y2="425.75" stroke="#333" stroke-width="0.9" />
<line x1="426.00" y1="425.75" x2="429.00" y2="425.75" stroke="#333" stroke-width="0.9" />
<line x1="427.50" y1="443.75" x2="427.50" y2="446.95" stroke="#222" stroke-width="0.9" />
<rect x="439.25" y="407.50" width="6.50" height="36.25" fill="#27237f" />
<line x1="442.50" y1="407.50" x2="442.50" y2="398.75" stroke="#333" stroke-width="0.9" />
<line x1="441.00" y1="398.75" x2="444.00" y2="398.75" stroke="#333" stroke-width="0.9" />
<line x1="442.50" y1="443.75" x2="442.50" y2="446.95" stroke="#222" stroke-width="0.9" />
<text x="416.60" y="454.10" font-size="7.4" text-anchor="end" textLength="39.40" lengthAdjust="spacingAndGlyphs" dominant-baseline="central" stroke="#222" stroke-width="0.06">pGL3-CEBPE</text>
<text x="427.10" y="454.10" font-size="7.4" text-anchor="middle" dominant-baseline="central" stroke="#222" stroke-width="0.06">+</text>
<text x="442.30" y="454.10" font-size="7.4" text-anchor="middle" dominant-baseline="central" stroke="#222" stroke-width="0.06">+</text>
<text x="416.60" y="464.20" font-size="7.4" text-anchor="end" textLength="34.30" lengthAdjust="spacingAndGlyphs" dominant-baseline="central" stroke="#222" stroke-width="0.06">N.C. siRNA</text>
<text x="427.10" y="464.20" font-size="7.4" text-anchor="middle" dominant-baseline="central" stroke="#222" stroke-width="0.06">+</text>
<text x="442.30" y="464.20" font-size="7.4" text-anchor="middle" dominant-baseline="central" stroke="#222" stroke-width="0.06">-</text>
<text x="416.60" y="474.30" font-size="7.4" text-anchor="end" textLength="53.60" lengthAdjust="spacingAndGlyphs" dominant-baseline="central" stroke="#222" stroke-width="0.06">PML/RAR&#945; siRNA</text>
<text x="427.10" y="474.30" font-size="7.4" text-anchor="middle" dominant-baseline="central" stroke="#222" stroke-width="0.06">-</text>
<text x="442.30" y="474.30" font-size="7.4" text-anchor="middle" dominant-baseline="central" stroke="#222" stroke-width="0.06">+</text>
<text x="7.60" y="492.50" font-size="12.5" fill="#111" font-weight="bold" stroke="#111" stroke-width="0.35">D</text>
<text x="97.50" y="513.00" font-size="9.5" text-anchor="middle" textLength="117.50" lengthAdjust="spacingAndGlyphs" dominant-baseline="central">179 primary AML from TCGA</text>
<text x="247.10" y="511.30" font-size="9.5" text-anchor="middle" textLength="43.20" lengthAdjust="spacingAndGlyphs" dominant-baseline="central">GSE12662</text>
<rect x="51.60" y="521.60" width="10.00" height="31.80" fill="#c4c4c4" />
<line x1="51.60" y1="521.60" x2="51.60" y2="553.40" stroke="#666" stroke-width="0.7" stroke-dasharray="1.4 1"/>
<line x1="61.60" y1="521.60" x2="61.60" y2="553.40" stroke="#666" stroke-width="0.7" stroke-dasharray="1.4 1"/>
<line x1="48.00" y1="553.40" x2="146.40" y2="553.40" stroke="#222" stroke-width="1.2" />
<path d="M51.60,553.20 C51.67,551.50 51.77,545.78 52.00,543.00 C52.23,540.22 52.60,538.23 53.00,536.50 C53.40,534.77 53.83,533.62 54.40,532.60 C54.97,531.58 55.63,530.93 56.40,530.40 C57.17,529.87 58.23,529.77 59.00,529.40 C59.77,529.03 60.33,528.37 61.00,528.20 C61.67,528.03 61.50,527.93 63.00,528.40 C64.50,528.87 67.50,529.90 70.00,531.00 C72.50,532.10 75.33,533.57 78.00,535.00 C80.67,536.43 83.33,537.93 86.00,539.60 C88.67,541.27 91.00,542.70 94.00,545.00 C97.00,547.30 101.00,551.23 104.00,553.40 C107.00,555.57 109.00,556.40 112.00,558.00 C115.00,559.60 119.00,561.53 122.00,563.00 C125.00,564.47 128.00,565.93 130.00,566.80 C132.00,567.67 132.83,568.00 134.00,568.20 C135.17,568.40 136.00,568.33 137.00,568.00 C138.00,567.67 139.17,566.87 140.00,566.20 C140.83,565.53 141.45,565.28 142.00,564.00 C142.55,562.72 142.97,560.27 143.30,558.50 C143.63,556.73 143.88,554.25 144.00,553.40" stroke="#cc1a36" fill="none" stroke-width="1.45" stroke-linejoin="round"/>
<rect x="48.00" y="521.60" width="98.40" height="62.20" fill="none" stroke="#222" stroke-width="1.1"/>
<line x1="44.80" y1="523.90" x2="48.00" y2="523.90" stroke="#222" stroke-width="1" />
<text x="42.00" y="524.10" font-size="7.4" text-anchor="end" dominant-baseline="central" stroke="#222" stroke-width="0.06">0.4</text>
<line x1="44.80" y1="538.40" x2="48.00" y2="538.40" stroke="#222" stroke-width="1" />
<text x="42.00" y="538.60" font-size="7.4" text-anchor="end" dominant-baseline="central" stroke="#222" stroke-width="0.06">0.2</text>
<line x1="44.80" y1="553.40" x2="48.00" y2="553.40" stroke="#222" stroke-width="1" />
<text x="42.00" y="553.60" font-size="7.4" text-anchor="end" dominant-baseline="central" stroke="#222" stroke-width="0.06">0.0</text>
<line x1="44.80" y1="567.90" x2="48.00" y2="567.90" stroke="#222" stroke-width="1" />
<text x="42.00" y="568.10" font-size="7.4" text-anchor="end" dominant-baseline="central" stroke="#222" stroke-width="0.06">−0.2</text>
<line x1="44.80" y1="582.20" x2="48.00" y2="582.20" stroke="#222" stroke-width="1" />
<text x="42.00" y="582.40" font-size="7.4" text-anchor="end" dominant-baseline="central" stroke="#222" stroke-width="0.06">−0.4</text>
<rect x="135.00" y="624.40" width="8.40" height="30.80" fill="#c4c4c4" />
<line x1="135.00" y1="624.40" x2="135.00" y2="655.20" stroke="#666" stroke-width="0.7" stroke-dasharray="1.4 1"/>
<line x1="143.40" y1="624.40" x2="143.40" y2="655.20" stroke="#666" stroke-width="0.7" stroke-dasharray="1.4 1"/>
<line x1="48.00" y1="624.40" x2="146.20" y2="624.40" stroke="#222" stroke-width="1.2" />
<path d="M52.00,624.40 C52.17,623.50 52.60,620.50 53.00,619.00 C53.40,617.50 53.73,616.13 54.40,615.40 C55.07,614.67 56.13,615.03 57.00,614.60 C57.87,614.17 58.77,612.90 59.60,612.80 C60.43,612.70 60.93,613.63 62.00,614.00 C63.07,614.37 64.50,614.77 66.00,615.00 C67.50,615.23 69.33,615.07 71.00,615.40 C72.67,615.73 74.33,616.23 76.00,617.00 C77.67,617.77 79.33,618.83 81.00,620.00 C82.67,621.17 83.83,622.50 86.00,624.00 C88.17,625.50 91.33,627.33 94.00,629.00 C96.67,630.67 99.33,632.33 102.00,634.00 C104.67,635.67 107.33,637.43 110.00,639.00 C112.67,640.57 115.33,642.00 118.00,643.40 C120.67,644.80 123.67,646.40 126.00,647.40 C128.33,648.40 130.50,648.90 132.00,649.40 C133.50,649.90 134.00,650.30 135.00,650.40 C136.00,650.50 137.17,650.23 138.00,650.00 C138.83,649.77 139.40,649.67 140.00,649.00 C140.60,648.33 141.17,647.67 141.60,646.00 C142.03,644.33 142.33,641.67 142.60,639.00 C142.87,636.33 143.03,632.43 143.20,630.00 C143.37,627.57 143.53,625.33 143.60,624.40" stroke="#2b2a8e" fill="none" stroke-width="1.45" stroke-linejoin="round"/>
<rect x="48.00" y="592.60" width="98.20" height="62.60" fill="none" stroke="#222" stroke-width="1.1"/>
<line x1="44.80" y1="595.00" x2="48.00" y2="595.00" stroke="#222" stroke-width="1" />
<text x="42.00" y="595.20" font-size="7.4" text-anchor="end" dominant-baseline="central" stroke="#222" stroke-width="0.06">0.4</text>
<line x1="44.80" y1="609.60" x2="48.00" y2="609.60" stroke="#222" stroke-width="1" />
<text x="42.00" y="609.80" font-size="7.4" text-anchor="end" dominant-baseline="central" stroke="#222" stroke-width="0.06">0.2</text>
<line x1="44.80" y1="624.40" x2="48.00" y2="624.40" stroke="#222" stroke-width="1" />
<text x="42.00" y="624.60" font-size="7.4" text-anchor="end" dominant-baseline="central" stroke="#222" stroke-width="0.06">0.0</text>
<line x1="44.80" y1="639.00" x2="48.00" y2="639.00" stroke="#222" stroke-width="1" />
<text x="42.00" y="639.20" font-size="7.4" text-anchor="end" dominant-baseline="central" stroke="#222" stroke-width="0.06">−0.2</text>
<line x1="44.80" y1="653.60" x2="48.00" y2="653.60" stroke="#222" stroke-width="1" />
<text x="42.00" y="653.80" font-size="7.4" text-anchor="end" dominant-baseline="central" stroke="#222" stroke-width="0.06">−0.4</text>
<rect x="200.60" y="521.60" width="6.00" height="28.20" fill="#c4c4c4" />
<line x1="200.60" y1="521.60" x2="200.60" y2="549.80" stroke="#666" stroke-width="0.7" stroke-dasharray="1.4 1"/>
<line x1="206.60" y1="521.60" x2="206.60" y2="549.80" stroke="#666" stroke-width="0.7" stroke-dasharray="1.4 1"/>
<line x1="197.40" y1="549.80" x2="296.00" y2="549.80" stroke="#222" stroke-width="1.2" />
<path d="M201.00,549.60 C201.10,548.00 201.33,542.77 201.60,540.00 C201.87,537.23 202.20,534.83 202.60,533.00 C203.00,531.17 203.43,529.93 204.00,529.00 C204.57,528.07 204.83,527.63 206.00,527.40 C207.17,527.17 208.83,527.33 211.00,527.60 C213.17,527.87 216.67,528.27 219.00,529.00 C221.33,529.73 222.33,530.50 225.00,532.00 C227.67,533.50 231.67,535.83 235.00,538.00 C238.33,540.17 242.33,543.07 245.00,545.00 C247.67,546.93 248.67,547.93 251.00,549.60 C253.33,551.27 256.33,553.27 259.00,555.00 C261.67,556.73 264.33,558.43 267.00,560.00 C269.67,561.57 272.67,563.27 275.00,564.40 C277.33,565.53 279.50,566.43 281.00,566.80 C282.50,567.17 283.00,567.00 284.00,566.60 C285.00,566.20 286.00,565.33 287.00,564.40 C288.00,563.47 289.27,562.23 290.00,561.00 C290.73,559.77 291.00,558.33 291.40,557.00 C291.80,555.67 292.20,554.20 292.40,553.00 C292.60,551.80 292.57,550.33 292.60,549.80" stroke="#cc1a36" fill="none" stroke-width="1.45" stroke-linejoin="round"/>
<rect x="197.40" y="521.60" width="98.60" height="62.80" fill="none" stroke="#222" stroke-width="1.1"/>
<line x1="194.20" y1="524.00" x2="197.40" y2="524.00" stroke="#222" stroke-width="1" />
<text x="191.80" y="524.20" font-size="7.4" text-anchor="end" dominant-baseline="central" stroke="#222" stroke-width="0.06">0.4</text>
<line x1="194.20" y1="537.00" x2="197.40" y2="537.00" stroke="#222" stroke-width="1" />
<text x="191.80" y="537.20" font-size="7.4" text-anchor="end" dominant-baseline="central" stroke="#222" stroke-width="0.06">0.2</text>
<line x1="194.20" y1="549.80" x2="197.40" y2="549.80" stroke="#222" stroke-width="1" />
<text x="191.80" y="550.00" font-size="7.4" text-anchor="end" dominant-baseline="central" stroke="#222" stroke-width="0.06">0.0</text>
<line x1="194.20" y1="563.00" x2="197.40" y2="563.00" stroke="#222" stroke-width="1" />
<text x="191.80" y="563.20" font-size="7.4" text-anchor="end" dominant-baseline="central" stroke="#222" stroke-width="0.06">−0.2</text>
<line x1="194.20" y1="576.00" x2="197.40" y2="576.00" stroke="#222" stroke-width="1" />
<text x="191.80" y="576.20" font-size="7.4" text-anchor="end" dominant-baseline="central" stroke="#222" stroke-width="0.06">−0.4</text>
<rect x="283.00" y="621.00" width="9.60" height="34.00" fill="#c4c4c4" />
<line x1="283.00" y1="621.00" x2="283.00" y2="655.00" stroke="#666" stroke-width="0.7" stroke-dasharray="1.4 1"/>
<line x1="292.60" y1="621.00" x2="292.60" y2="655.00" stroke="#666" stroke-width="0.7" stroke-dasharray="1.4 1"/>
<line x1="197.40" y1="621.00" x2="296.00" y2="621.00" stroke="#222" stroke-width="1.2" />
<path d="M201.00,620.80 C201.17,619.83 201.50,616.30 202.00,615.00 C202.50,613.70 202.83,613.57 204.00,613.00 C205.17,612.43 207.33,611.70 209.00,611.60 C210.67,611.50 212.33,611.90 214.00,612.40 C215.67,612.90 217.17,613.67 219.00,614.60 C220.83,615.53 223.17,616.93 225.00,618.00 C226.83,619.07 227.67,619.50 230.00,621.00 C232.33,622.50 235.83,624.83 239.00,627.00 C242.17,629.17 245.67,631.83 249.00,634.00 C252.33,636.17 255.67,638.23 259.00,640.00 C262.33,641.77 266.00,643.37 269.00,644.60 C272.00,645.83 274.67,646.73 277.00,647.40 C279.33,648.07 281.50,648.50 283.00,648.60 C284.50,648.70 285.00,648.60 286.00,648.00 C287.00,647.40 288.23,646.50 289.00,645.00 C289.77,643.50 290.13,641.67 290.60,639.00 C291.07,636.33 291.50,632.00 291.80,629.00 C292.10,626.00 292.30,622.33 292.40,621.00" stroke="#2b2a8e" fill="none" stroke-width="1.45" stroke-linejoin="round"/>
<rect x="197.40" y="592.60" width="98.60" height="62.40" fill="none" stroke="#222" stroke-width="1.1"/>
<line x1="194.20" y1="595.00" x2="197.40" y2="595.00" stroke="#222" stroke-width="1" />
<text x="191.80" y="595.20" font-size="7.4" text-anchor="end" dominant-baseline="central" stroke="#222" stroke-width="0.06">0.4</text>
<line x1="194.20" y1="608.00" x2="197.40" y2="608.00" stroke="#222" stroke-width="1" />
<text x="191.80" y="608.20" font-size="7.4" text-anchor="end" dominant-baseline="central" stroke="#222" stroke-width="0.06">0.2</text>
<line x1="194.20" y1="621.00" x2="197.40" y2="621.00" stroke="#222" stroke-width="1" />
<text x="191.80" y="621.20" font-size="7.4" text-anchor="end" dominant-baseline="central" stroke="#222" stroke-width="0.06">0.0</text>
<line x1="194.20" y1="634.00" x2="197.40" y2="634.00" stroke="#222" stroke-width="1" />
<text x="191.80" y="634.20" font-size="7.4" text-anchor="end" dominant-baseline="central" stroke="#222" stroke-width="0.06">−0.2</text>
<line x1="194.20" y1="647.00" x2="197.40" y2="647.00" stroke="#222" stroke-width="1" />
<text x="191.80" y="647.20" font-size="7.4" text-anchor="end" dominant-baseline="central" stroke="#222" stroke-width="0.06">−0.4</text>
<text x="107.00" y="531.80" font-size="7.0" text-anchor="middle" fill="#d42a40" textLength="24.00" lengthAdjust="spacingAndGlyphs" dominant-baseline="central" stroke="#d42a40" stroke-width="0.06">Activated</text>
<line x1="105.60" y1="536.40" x2="93.00" y2="543.80" stroke="#cc1a36" stroke-width="1.1" />
<text x="52.00" y="565.70" font-size="7.6" fill="#d42a40" textLength="35.00" lengthAdjust="spacingAndGlyphs" dominant-baseline="central" stroke="#d42a40" stroke-width="0.06">NES = 1.47</text>
<text x="52.00" y="573.60" font-size="7.6" fill="#d42a40" textLength="40.00" lengthAdjust="spacingAndGlyphs" dominant-baseline="central" stroke="#d42a40" stroke-width="0.06">q-value = 0.0</text>
<text x="254.60" y="538.00" font-size="7.0" text-anchor="middle" fill="#d42a40" textLength="24.00" lengthAdjust="spacingAndGlyphs" dominant-baseline="central" stroke="#d42a40" stroke-width="0.06">Activated</text>
<line x1="253.40" y1="542.40" x2="247.00" y2="548.20" stroke="#cc1a36" stroke-width="1.1" />
<text x="200.60" y="565.70" font-size="7.6" fill="#d42a40" textLength="34.40" lengthAdjust="spacingAndGlyphs" dominant-baseline="central" stroke="#d42a40" stroke-width="0.06">NES = 1.57</text>
<text x="200.60" y="573.60" font-size="7.6" fill="#d42a40" textLength="40.40" lengthAdjust="spacingAndGlyphs" dominant-baseline="central" stroke="#d42a40" stroke-width="0.06">q-value = 0.0</text>
<text x="102.00" y="600.60" font-size="7.6" fill="#3c3ca0" textLength="37.00" lengthAdjust="spacingAndGlyphs" dominant-baseline="central" stroke="#3c3ca0" stroke-width="0.06">NES = -1.67</text>
<text x="102.00" y="608.60" font-size="7.6" fill="#3c3ca0" textLength="40.00" lengthAdjust="spacingAndGlyphs" dominant-baseline="central" stroke="#3c3ca0" stroke-width="0.06">q-value = 0.0</text>
<text x="84.50" y="643.50" font-size="7.0" text-anchor="middle" fill="#3c3ca0" textLength="27.00" lengthAdjust="spacingAndGlyphs" dominant-baseline="central" stroke="#3c3ca0" stroke-width="0.06">Repressed</text>
<line x1="86.00" y1="638.20" x2="92.40" y2="628.00" stroke="#2b2a8e" stroke-width="1.1" />
<text x="242.60" y="600.40" font-size="7.6" fill="#3c3ca0" textLength="36.80" lengthAdjust="spacingAndGlyphs" dominant-baseline="central" stroke="#3c3ca0" stroke-width="0.06">NES = -1.80</text>
<text x="242.60" y="608.60" font-size="7.6" fill="#3c3ca0" textLength="40.40" lengthAdjust="spacingAndGlyphs" dominant-baseline="central" stroke="#3c3ca0" stroke-width="0.06">q-value = 0.0</text>
<text x="240.70" y="646.60" font-size="7.0" text-anchor="middle" fill="#3c3ca0" textLength="26.60" lengthAdjust="spacingAndGlyphs" dominant-baseline="central" stroke="#3c3ca0" stroke-width="0.06">Repressed</text>
<line x1="241.40" y1="639.60" x2="248.60" y2="633.80" stroke="#2b2a8e" stroke-width="1.1" />
<defs><linearGradient id="gb" x1="0" x2="1" y1="0" y2="0"><stop offset="0" stop-color="#1c1a78"/><stop offset="0.25" stop-color="#3a3a90"/><stop offset="0.6" stop-color="#9a9ac4"/><stop offset="1" stop-color="#ffffff"/></linearGradient></defs>
<rect x="50.60" y="660.00" width="97.80" height="3.80" fill="url(#gb)" />
<rect x="201.00" y="660.00" width="97.50" height="3.80" fill="url(#gb)" />
<text x="58.50" y="671.30" font-size="7.2" text-anchor="middle" textLength="34.60" lengthAdjust="spacingAndGlyphs" dominant-baseline="central" stroke="#222" stroke-width="0.06">High in APL</text>
<text x="142.10" y="671.30" font-size="7.2" text-anchor="middle" textLength="33.50" lengthAdjust="spacingAndGlyphs" dominant-baseline="central" stroke="#222" stroke-width="0.06">Low in APL</text>
<text x="208.40" y="671.30" font-size="7.2" text-anchor="middle" textLength="35.50" lengthAdjust="spacingAndGlyphs" dominant-baseline="central" stroke="#222" stroke-width="0.06">High in APL</text>
<text x="291.80" y="671.30" font-size="7.2" text-anchor="middle" textLength="33.90" lengthAdjust="spacingAndGlyphs" dominant-baseline="central" stroke="#222" stroke-width="0.06">Low in APL</text>
<text x="97.90" y="683.20" font-size="9.6" text-anchor="middle" textLength="111.20" lengthAdjust="spacingAndGlyphs" dominant-baseline="central" stroke="#222" stroke-width="0.2">Genes ranked by log<tspan font-size="6.8" dy="2.2">2</tspan><tspan dy="-2.2"> (fold change)</tspan></text>
<text x="97.70" y="693.20" font-size="9.6" text-anchor="middle" textLength="48.50" lengthAdjust="spacingAndGlyphs" dominant-baseline="central" stroke="#222" stroke-width="0.2">(APL / non-APL)</text>
<text x="247.30" y="683.10" font-size="9.6" text-anchor="middle" textLength="112.00" lengthAdjust="spacingAndGlyphs" dominant-baseline="central" stroke="#222" stroke-width="0.2">Genes ranked by log<tspan font-size="6.8" dy="2.2">2</tspan><tspan dy="-2.2"> (fold change)</tspan></text>
<text x="246.40" y="693.60" font-size="9.6" text-anchor="middle" textLength="92.30" lengthAdjust="spacingAndGlyphs" dominant-baseline="central" stroke="#222" stroke-width="0.2">(APL / normal promyelocytes)</text>
<text x="20.70" y="588.30" font-size="9.2" text-anchor="middle" textLength="69.40" lengthAdjust="spacingAndGlyphs" dominant-baseline="central" transform="rotate(-90 20.70 588.30)" stroke="#222" stroke-width="0.2">Enrichment score (ES)</text>
<text x="170.50" y="588.10" font-size="9.2" text-anchor="middle" textLength="70.00" lengthAdjust="spacingAndGlyphs" dominant-baseline="central" transform="rotate(-90 170.50 588.10)" stroke="#222" stroke-width="0.2">Enrichment score (ES)</text>
<text x="324.60" y="492.30" font-size="12.5" fill="#111" font-weight="bold" stroke="#111" stroke-width="0.35">E</text>
<line x1="362.30" y1="494.80" x2="362.30" y2="536.00" stroke="#222" stroke-width="1.2" />
<line x1="361.70" y1="535.40" x2="478.10" y2="535.40" stroke="#222" stroke-width="1.2" />
<line x1="359.10" y1="535.40" x2="362.30" y2="535.40" stroke="#222" stroke-width="1" />
<text x="357.40" y="535.60" font-size="7.6" text-anchor="end" dominant-baseline="central" stroke="#222" stroke-width="0.06">0</text>
<line x1="359.10" y1="527.40" x2="362.30" y2="527.40" stroke="#222" stroke-width="1" />
<text x="357.40" y="527.60" font-size="7.6" text-anchor="end" dominant-baseline="central" stroke="#222" stroke-width="0.06">2</text>
<line x1="359.10" y1="519.40" x2="362.30" y2="519.40" stroke="#222" stroke-width="1" />
<text x="357.40" y="519.60" font-size="7.6" text-anchor="end" dominant-baseline="central" stroke="#222" stroke-width="0.06">4</text>
<line x1="359.10" y1="511.40" x2="362.30" y2="511.40" stroke="#222" stroke-width="1" />
<text x="357.40" y="511.60" font-size="7.6" text-anchor="end" dominant-baseline="central" stroke="#222" stroke-width="0.06">6</text>
<line x1="359.10" y1="503.40" x2="362.30" y2="503.40" stroke="#222" stroke-width="1" />
<text x="357.40" y="503.60" font-size="7.6" text-anchor="end" dominant-baseline="central" stroke="#222" stroke-width="0.06">8</text>
<line x1="359.10" y1="495.40" x2="362.30" y2="495.40" stroke="#222" stroke-width="1" />
<text x="357.40" y="495.60" font-size="7.6" text-anchor="end" dominant-baseline="central" stroke="#222" stroke-width="0.06">10</text>
<rect x="366.20" y="531.80" width="4.20" height="3.60" fill="#c8102e" />
<line x1="368.30" y1="535.40" x2="368.30" y2="538.20" stroke="#222" stroke-width="0.9" />
<rect x="377.73" y="529.00" width="4.20" height="6.40" fill="#c8102e" />
<line x1="379.83" y1="535.40" x2="379.83" y2="538.20" stroke="#222" stroke-width="0.9" />
<rect x="389.26" y="533.40" width="4.20" height="2.00" fill="#c8102e" />
<line x1="391.36" y1="535.40" x2="391.36" y2="538.20" stroke="#222" stroke-width="0.9" />
<rect x="400.79" y="505.40" width="4.20" height="30.00" fill="#c8102e" />
<line x1="402.89" y1="535.40" x2="402.89" y2="538.20" stroke="#222" stroke-width="0.9" />
<rect x="412.32" y="500.00" width="4.20" height="35.40" fill="#c8102e" />
<line x1="414.42" y1="535.40" x2="414.42" y2="538.20" stroke="#222" stroke-width="0.9" />
<rect x="423.85" y="532.20" width="4.20" height="3.20" fill="#c8102e" />
<line x1="425.95" y1="535.40" x2="425.95" y2="538.20" stroke="#222" stroke-width="0.9" />
<rect x="435.38" y="532.20" width="4.20" height="3.20" fill="#c8102e" />
<line x1="437.48" y1="535.40" x2="437.48" y2="538.20" stroke="#222" stroke-width="0.9" />
<rect x="446.91" y="528.00" width="4.20" height="7.40" fill="#c8102e" />
<line x1="449.01" y1="535.40" x2="449.01" y2="538.20" stroke="#222" stroke-width="0.9" />
<rect x="458.44" y="519.60" width="4.20" height="15.80" fill="#c8102e" />
<line x1="460.54" y1="535.40" x2="460.54" y2="538.20" stroke="#222" stroke-width="0.9" />
<rect x="469.97" y="520.20" width="4.20" height="15.20" fill="#c8102e" />
<line x1="472.07" y1="535.40" x2="472.07" y2="538.20" stroke="#222" stroke-width="0.9" />
<text x="366.10" y="497.40" font-size="7.8" fill="#d0203a" textLength="29.00" lengthAdjust="spacingAndGlyphs" dominant-baseline="central" stroke="#d0203a" stroke-width="0.06">Activated</text>
<line x1="362.30" y1="541.00" x2="362.30" y2="583.60" stroke="#222" stroke-width="1.2" />
<line x1="361.70" y1="583.00" x2="478.10" y2="583.00" stroke="#222" stroke-width="1.2" />
<line x1="359.10" y1="583.00" x2="362.30" y2="583.00" stroke="#222" stroke-width="1" />
<text x="357.40" y="583.20" font-size="7.6" text-anchor="end" dominant-baseline="central" stroke="#222" stroke-width="0.06">0</text>
<line x1="359.10" y1="575.08" x2="362.30" y2="575.08" stroke="#222" stroke-width="1" />
<text x="357.40" y="575.28" font-size="7.6" text-anchor="end" dominant-baseline="central" stroke="#222" stroke-width="0.06">5</text>
<line x1="359.10" y1="567.15" x2="362.30" y2="567.15" stroke="#222" stroke-width="1" />
<text x="357.40" y="567.35" font-size="7.6" text-anchor="end" dominant-baseline="central" stroke="#222" stroke-width="0.06">10</text>
<line x1="359.10" y1="559.23" x2="362.30" y2="559.23" stroke="#222" stroke-width="1" />
<text x="357.40" y="559.43" font-size="7.6" text-anchor="end" dominant-baseline="central" stroke="#222" stroke-width="0.06">15</text>
<line x1="359.10" y1="551.30" x2="362.30" y2="551.30" stroke="#222" stroke-width="1" />
<text x="357.40" y="551.50" font-size="7.6" text-anchor="end" dominant-baseline="central" stroke="#222" stroke-width="0.06">20</text>
<line x1="359.10" y1="543.38" x2="362.30" y2="543.38" stroke="#222" stroke-width="1" />
<text x="357.40" y="543.58" font-size="7.6" text-anchor="end" dominant-baseline="central" stroke="#222" stroke-width="0.06">25</text>
<rect x="366.20" y="582.21" width="4.20" height="0.79" fill="#27237f" />
<line x1="368.30" y1="583.00" x2="368.30" y2="585.80" stroke="#222" stroke-width="0.9" />
<rect x="377.73" y="580.15" width="4.20" height="2.85" fill="#27237f" />
<line x1="379.83" y1="583.00" x2="379.83" y2="585.80" stroke="#222" stroke-width="0.9" />
<rect x="389.26" y="582.52" width="4.20" height="0.48" fill="#27237f" />
<line x1="391.36" y1="583.00" x2="391.36" y2="585.80" stroke="#222" stroke-width="0.9" />
<rect x="400.79" y="581.57" width="4.20" height="1.43" fill="#27237f" />
<line x1="402.89" y1="583.00" x2="402.89" y2="585.80" stroke="#222" stroke-width="0.9" />
<rect x="412.32" y="582.21" width="4.20" height="0.79" fill="#27237f" />
<line x1="414.42" y1="583.00" x2="414.42" y2="585.80" stroke="#222" stroke-width="0.9" />
<rect x="423.85" y="581.57" width="4.20" height="1.43" fill="#27237f" />
<line x1="425.95" y1="583.00" x2="425.95" y2="585.80" stroke="#222" stroke-width="0.9" />
<line x1="437.48" y1="583.00" x2="437.48" y2="585.80" stroke="#222" stroke-width="0.9" />
<rect x="446.91" y="581.57" width="4.20" height="1.43" fill="#27237f" />
<line x1="449.01" y1="583.00" x2="449.01" y2="585.80" stroke="#222" stroke-width="0.9" />
<rect x="458.44" y="559.23" width="4.20" height="23.77" fill="#27237f" />
<line x1="460.54" y1="583.00" x2="460.54" y2="585.80" stroke="#222" stroke-width="0.9" />
<rect x="469.97" y="549.24" width="4.20" height="33.76" fill="#27237f" />
<line x1="472.07" y1="583.00" x2="472.07" y2="585.80" stroke="#222" stroke-width="0.9" />
<text x="366.10" y="545.30" font-size="7.8" fill="#40409c" textLength="31.50" lengthAdjust="spacingAndGlyphs" dominant-baseline="central" stroke="#40409c" stroke-width="0.06">Repressed</text>
<text x="370.60" y="589.60" font-size="8.8" text-anchor="end" textLength="16.20" lengthAdjust="spacingAndGlyphs" dominant-baseline="central" transform="rotate(-45 370.60 589.60)" stroke="#222" stroke-width="0.06">HSCs</text>
<text x="382.13" y="589.60" font-size="8.8" text-anchor="end" textLength="17.40" lengthAdjust="spacingAndGlyphs" dominant-baseline="central" transform="rotate(-45 382.13 589.60)" stroke="#222" stroke-width="0.06">MPPs</text>
<text x="393.66" y="589.60" font-size="8.8" text-anchor="end" textLength="17.40" lengthAdjust="spacingAndGlyphs" dominant-baseline="central" transform="rotate(-45 393.66 589.60)" stroke="#222" stroke-width="0.06">CMPs</text>
<text x="405.19" y="589.60" font-size="8.8" text-anchor="end" textLength="18.60" lengthAdjust="spacingAndGlyphs" dominant-baseline="central" transform="rotate(-45 405.19 589.60)" stroke="#222" stroke-width="0.06">GMPs</text>
<text x="416.72" y="589.60" font-size="8.8" text-anchor="end" textLength="12.60" lengthAdjust="spacingAndGlyphs" dominant-baseline="central" transform="rotate(-45 416.72 589.60)" stroke="#222" stroke-width="0.06">PMs</text>
<text x="428.25" y="589.60" font-size="8.8" text-anchor="end" textLength="16.80" lengthAdjust="spacingAndGlyphs" dominant-baseline="central" transform="rotate(-45 428.25 589.60)" stroke="#222" stroke-width="0.06">MEPs</text>
<text x="439.78" y="589.60" font-size="8.8" text-anchor="end" textLength="12.00" lengthAdjust="spacingAndGlyphs" dominant-baseline="central" transform="rotate(-45 439.78 589.60)" stroke="#222" stroke-width="0.06">MYs</text>
<text x="451.31" y="589.60" font-size="8.8" text-anchor="end" textLength="15.60" lengthAdjust="spacingAndGlyphs" dominant-baseline="central" transform="rotate(-45 451.31 589.60)" stroke="#222" stroke-width="0.06">MMs</text>
<text x="462.84" y="589.60" font-size="8.8" text-anchor="end" textLength="12.00" lengthAdjust="spacingAndGlyphs" dominant-baseline="central" transform="rotate(-45 462.84 589.60)" stroke="#222" stroke-width="0.06">BCs</text>
<text x="474.37" y="589.60" font-size="8.8" text-anchor="end" textLength="19.20" lengthAdjust="spacingAndGlyphs" dominant-baseline="central" transform="rotate(-45 474.37 589.60)" stroke="#222" stroke-width="0.06">PMNs</text>
<text x="338.80" y="537.70" font-size="9.2" text-anchor="middle" textLength="49.00" lengthAdjust="spacingAndGlyphs" dominant-baseline="central" transform="rotate(-90 338.80 537.70)" stroke="#222" stroke-width="0.2">-Log<tspan font-size="6.5" dy="1.8">10</tspan><tspan dy="-1.8"> (P value)</tspan></text>
<ellipse cx="373.80" cy="646.00" rx="8.4" ry="6.4" fill="#f7e6dc"/>
<ellipse cx="423.60" cy="630.90" rx="5.8" ry="5.3" fill="#ece4e0"/>
<ellipse cx="448.00" cy="621.40" rx="8.8" ry="6.4" fill="#edf4ea"/>
<ellipse cx="440.40" cy="635.70" rx="4.6" ry="3.4" fill="#e6e4f4"/>
<ellipse cx="376.00" cy="671.20" rx="4.4" ry="2.8" fill="#fbefdc"/>
<ellipse cx="389.20" cy="685.60" rx="4.4" ry="3.4" fill="#ece6f6"/>
<circle cx="367.20" cy="646.40" r="1.25" fill="#f0b0a0" stroke="#e07a68" stroke-width="0.75"/>
<circle cx="368.60" cy="644.80" r="1.25" fill="#f0b0a0" stroke="#e07a68" stroke-width="0.75"/>
<circle cx="376.10" cy="642.60" r="1.25" fill="#f0b0a0" stroke="#e07a68" stroke-width="0.75"/>
<circle cx="377.40" cy="644.50" r="1.25" fill="#f0b0a0" stroke="#e07a68" stroke-width="0.75"/>
<circle cx="379.60" cy="645.40" r="1.25" fill="#f0b0a0" stroke="#e07a68" stroke-width="0.75"/>
<circle cx="376.70" cy="647.30" r="1.25" fill="#f0b0a0" stroke="#e07a68" stroke-width="0.75"/>
<circle cx="377.90" cy="649.50" r="1.25" fill="#f0b0a0" stroke="#e07a68" stroke-width="0.75"/>
<circle cx="374.80" cy="655.40" r="1.2" fill="#e070b8" stroke="#d02898" stroke-width="0.9"/>
<circle cx="374.80" cy="657.60" r="1.2" fill="#e070b8" stroke="#d02898" stroke-width="0.9"/>
<circle cx="373.30" cy="671.70" r="1.25" fill="#f8d8a0" stroke="#f0b25a" stroke-width="0.75"/>
<circle cx="375.60" cy="670.90" r="1.25" fill="#f8d8a0" stroke="#f0b25a" stroke-width="0.75"/>
<circle cx="377.30" cy="669.80" r="1.25" fill="#f8d8a0" stroke="#f0b25a" stroke-width="0.75"/>
<circle cx="377.90" cy="672.30" r="1.25" fill="#f8d8a0" stroke="#f0b25a" stroke-width="0.75"/>
<circle cx="386.00" cy="684.40" r="1.35" fill="#9a84d0" stroke="#6a4ab8" stroke-width="0.75"/>
<circle cx="386.00" cy="686.70" r="1.35" fill="#9a84d0" stroke="#6a4ab8" stroke-width="0.75"/>
<circle cx="389.40" cy="685.60" r="1.35" fill="#9a84d0" stroke="#6a4ab8" stroke-width="0.75"/>
<circle cx="392.30" cy="685.00" r="1.35" fill="#9a84d0" stroke="#6a4ab8" stroke-width="0.75"/>
<circle cx="392.30" cy="687.30" r="1.35" fill="#9a84d0" stroke="#6a4ab8" stroke-width="0.75"/>
<circle cx="388.30" cy="693.60" r="1.25" fill="none" stroke="#333" stroke-width="0.75"/>
<circle cx="390.60" cy="692.50" r="1.25" fill="none" stroke="#333" stroke-width="0.75"/>
<circle cx="392.90" cy="693.60" r="1.25" fill="none" stroke="#333" stroke-width="0.75"/>
<circle cx="392.90" cy="692.00" r="1.25" fill="none" stroke="#333" stroke-width="0.75"/>
<circle cx="421.60" cy="628.30" r="1.25" fill="none" stroke="#a98470" stroke-width="0.75"/>
<circle cx="425.40" cy="628.30" r="1.25" fill="none" stroke="#a98470" stroke-width="0.75"/>
<circle cx="427.50" cy="631.20" r="1.25" fill="none" stroke="#a98470" stroke-width="0.75"/>
<circle cx="422.60" cy="634.60" r="1.25" fill="none" stroke="#a98470" stroke-width="0.75"/>
<circle cx="445.70" cy="615.60" r="1.25" fill="none" stroke="#6aa090" stroke-width="0.75"/>
<circle cx="451.50" cy="615.60" r="1.25" fill="none" stroke="#6aa090" stroke-width="0.75"/>
<circle cx="455.20" cy="617.50" r="1.25" fill="none" stroke="#6aa090" stroke-width="0.75"/>
<circle cx="446.20" cy="621.40" r="1.25" fill="none" stroke="#6aa090" stroke-width="0.75"/>
<circle cx="447.60" cy="626.50" r="1.25" fill="none" stroke="#6aa090" stroke-width="0.75"/>
<circle cx="433.50" cy="632.70" r="1.25" fill="none" stroke="#3e7e44" stroke-width="0.75"/>
<circle cx="430.00" cy="637.30" r="1.25" fill="none" stroke="#3e7e44" stroke-width="0.75"/>
<circle cx="436.20" cy="636.20" r="1.35" fill="#7a7ad0" stroke="#3a3ab0" stroke-width="0.75"/>
<circle cx="439.60" cy="634.40" r="1.35" fill="#7a7ad0" stroke="#3a3ab0" stroke-width="0.75"/>
<circle cx="443.80" cy="635.70" r="1.35" fill="#7a7ad0" stroke="#3a3ab0" stroke-width="0.75"/>
<circle cx="445.90" cy="638.70" r="1.4" fill="#f6de60" stroke="#ecc820" stroke-width="1.0"/>
<circle cx="444.60" cy="641.00" r="1.4" fill="#f6de60" stroke="#ecc820" stroke-width="1.0"/>
<line x1="379.60" y1="629.30" x2="371.30" y2="640.30" stroke="#333" stroke-width="0.8" />
<line x1="376.20" y1="656.80" x2="378.80" y2="656.80" stroke="#333" stroke-width="0.8" />
<line x1="378.20" y1="670.60" x2="382.60" y2="669.60" stroke="#333" stroke-width="0.8" />
<line x1="393.00" y1="684.60" x2="397.40" y2="681.20" stroke="#333" stroke-width="0.8" />
<line x1="394.20" y1="692.60" x2="397.20" y2="692.60" stroke="#333" stroke-width="0.8" />
<line x1="416.00" y1="633.30" x2="419.40" y2="631.60" stroke="#333" stroke-width="0.8" />
<line x1="435.60" y1="619.80" x2="438.50" y2="621.40" stroke="#333" stroke-width="0.8" />
<line x1="433.60" y1="632.20" x2="435.60" y2="629.30" stroke="#333" stroke-width="0.8" />
<line x1="437.20" y1="642.00" x2="439.60" y2="638.70" stroke="#333" stroke-width="0.8" />
<line x1="446.70" y1="640.40" x2="449.90" y2="643.10" stroke="#333" stroke-width="0.8" />
<text x="376.50" y="623.60" font-size="7.2" text-anchor="middle" fill="#333" textLength="10.90" lengthAdjust="spacingAndGlyphs" dominant-baseline="central" stroke="#333" stroke-width="0.06">PMs</text>
<text x="378.60" y="657.00" font-size="7.2" fill="#d02898" textLength="11.60" lengthAdjust="spacingAndGlyphs" dominant-baseline="central" stroke="#d02898" stroke-width="0.06">MYs</text>
<text x="383.00" y="670.00" font-size="7.2" fill="#eea640" textLength="12.80" lengthAdjust="spacingAndGlyphs" dominant-baseline="central" stroke="#eea640" stroke-width="0.06">MMs</text>
<text x="398.10" y="682.70" font-size="7.2" fill="#7a5ac0" textLength="9.40" lengthAdjust="spacingAndGlyphs" dominant-baseline="central" stroke="#7a5ac0" stroke-width="0.06">BCs</text>
<text x="397.50" y="693.10" font-size="7.2" fill="#333" textLength="15.30" lengthAdjust="spacingAndGlyphs" dominant-baseline="central" stroke="#333" stroke-width="0.06">PMNs</text>
<text x="405.00" y="636.80" font-size="7.2" fill="#9c7a62" textLength="13.40" lengthAdjust="spacingAndGlyphs" dominant-baseline="central" stroke="#9c7a62" stroke-width="0.06">HSCs</text>
<text x="427.50" y="616.90" font-size="7.2" fill="#6aaa50" textLength="15.20" lengthAdjust="spacingAndGlyphs" dominant-baseline="central" stroke="#6aaa50" stroke-width="0.06">GMPs</text>
<text x="428.80" y="627.20" font-size="7.2" fill="#3a7a40" textLength="14.20" lengthAdjust="spacingAndGlyphs" dominant-baseline="central" stroke="#3a7a40" stroke-width="0.06">MPPs</text>
<text x="424.50" y="645.00" font-size="7.2" fill="#4a4ab0" textLength="15.10" lengthAdjust="spacingAndGlyphs" dominant-baseline="central" stroke="#4a4ab0" stroke-width="0.06">CMPs</text>
<text x="442.00" y="647.90" font-size="7.2" fill="#f0d030" textLength="13.70" lengthAdjust="spacingAndGlyphs" dominant-baseline="central" stroke="#f0d030" stroke-width="0.06">MEPs</text>
<rect x="362.40" y="613.30" width="95.60" height="84.70" fill="none" stroke="#222" stroke-width="1.1"/>
<line x1="359.20" y1="615.10" x2="362.40" y2="615.10" stroke="#222" stroke-width="1" />
<text x="357.40" y="615.30" font-size="7.6" text-anchor="end" dominant-baseline="central" stroke="#222" stroke-width="0.06">60</text>
<line x1="359.20" y1="626.90" x2="362.40" y2="626.90" stroke="#222" stroke-width="1" />
<text x="357.40" y="627.10" font-size="7.6" text-anchor="end" dominant-baseline="central" stroke="#222" stroke-width="0.06">40</text>
<line x1="359.20" y1="638.70" x2="362.40" y2="638.70" stroke="#222" stroke-width="1" />
<text x="357.40" y="638.90" font-size="7.6" text-anchor="end" dominant-baseline="central" stroke="#222" stroke-width="0.06">20</text>
<line x1="359.20" y1="650.40" x2="362.40" y2="650.40" stroke="#222" stroke-width="1" />
<text x="357.40" y="650.60" font-size="7.6" text-anchor="end" dominant-baseline="central" stroke="#222" stroke-width="0.06">0</text>
<line x1="359.20" y1="662.10" x2="362.40" y2="662.10" stroke="#222" stroke-width="1" />
<text x="357.40" y="662.30" font-size="7.6" text-anchor="end" dominant-baseline="central" stroke="#222" stroke-width="0.06">−20</text>
<line x1="359.20" y1="673.80" x2="362.40" y2="673.80" stroke="#222" stroke-width="1" />
<text x="357.40" y="674.00" font-size="7.6" text-anchor="end" dominant-baseline="central" stroke="#222" stroke-width="0.06">−40</text>
<line x1="359.20" y1="685.60" x2="362.40" y2="685.60" stroke="#222" stroke-width="1" />
<text x="357.40" y="685.80" font-size="7.6" text-anchor="end" dominant-baseline="central" stroke="#222" stroke-width="0.06">−60</text>
<line x1="359.20" y1="697.30" x2="362.40" y2="697.30" stroke="#222" stroke-width="1" />
<text x="357.40" y="697.50" font-size="7.6" text-anchor="end" dominant-baseline="central" stroke="#222" stroke-width="0.06">−80</text>
<line x1="368.10" y1="698.00" x2="368.10" y2="701.20" stroke="#222" stroke-width="1" />
<text x="368.10" y="708.40" font-size="7.6" text-anchor="middle" dominant-baseline="central" stroke="#222" stroke-width="0.06">−40</text>
<line x1="387.60" y1="698.00" x2="387.60" y2="701.20" stroke="#222" stroke-width="1" />
<text x="387.60" y="708.40" font-size="7.6" text-anchor="middle" dominant-baseline="central" stroke="#222" stroke-width="0.06">−20</text>
<line x1="407.10" y1="698.00" x2="407.10" y2="701.20" stroke="#222" stroke-width="1" />
<text x="407.10" y="708.40" font-size="7.6" text-anchor="middle" dominant-baseline="central" stroke="#222" stroke-width="0.06">0</text>
<line x1="426.60" y1="698.00" x2="426.60" y2="701.20" stroke="#222" stroke-width="1" />
<text x="426.60" y="708.40" font-size="7.6" text-anchor="middle" dominant-baseline="central" stroke="#222" stroke-width="0.06">20</text>
<line x1="446.10" y1="698.00" x2="446.10" y2="701.20" stroke="#222" stroke-width="1" />
<text x="446.10" y="708.40" font-size="7.6" text-anchor="middle" dominant-baseline="central" stroke="#222" stroke-width="0.06">40</text>
<text x="410.60" y="720.40" font-size="9.2" text-anchor="middle" textLength="23.00" lengthAdjust="spacingAndGlyphs" dominant-baseline="central" stroke="#222" stroke-width="0.2">tSNE_1</text>
<text x="337.40" y="655.70" font-size="9.2" text-anchor="middle" textLength="22.60" lengthAdjust="spacingAndGlyphs" dominant-baseline="central" transform="rotate(-90 337.40 655.70)" stroke="#222" stroke-width="0.2">tSNE_2</text>
<rect x="0.5" y="0.5" width="519" height="732" fill="none" stroke="#000" stroke-width="1.2"/>
</svg>
</body></html>
